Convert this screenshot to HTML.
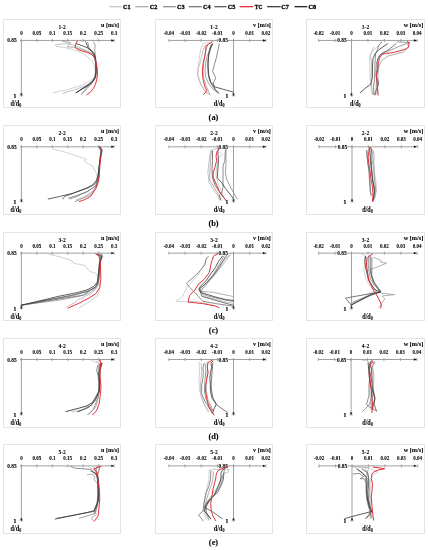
<!DOCTYPE html><html><head><meta charset="utf-8"><style>html,body{margin:0;padding:0;background:#fff;}svg{display:block;will-change:transform}</style></head><body>
<svg width="428" height="550" viewBox="0 0 428 550" font-family='"Liberation Serif", serif' fill="#000">
<rect width="428" height="550" fill="#fff"/>
<line x1="109.5" y1="6.7" x2="121.60000000000001" y2="6.7" stroke="#c4c4c4" stroke-width="1.25"/>
<text x="122.90" y="9.10" font-size="7.0" text-anchor="start" font-weight="bold" stroke="#000" stroke-width="0.32" textLength="7.6" lengthAdjust="spacingAndGlyphs">C1</text>
<line x1="135.3" y1="6.7" x2="148.20000000000002" y2="6.7" stroke="#a8a8a8" stroke-width="1.25"/>
<text x="149.70" y="9.10" font-size="7.0" text-anchor="start" font-weight="bold" stroke="#000" stroke-width="0.32" textLength="7.6" lengthAdjust="spacingAndGlyphs">C2</text>
<line x1="163.0" y1="6.7" x2="175.8" y2="6.7" stroke="#8c8c8c" stroke-width="1.25"/>
<text x="177.10" y="9.10" font-size="7.0" text-anchor="start" font-weight="bold" stroke="#000" stroke-width="0.32" textLength="7.6" lengthAdjust="spacingAndGlyphs">C3</text>
<line x1="188.7" y1="6.7" x2="201.8" y2="6.7" stroke="#707070" stroke-width="1.25"/>
<text x="203.10" y="9.10" font-size="7.0" text-anchor="start" font-weight="bold" stroke="#000" stroke-width="0.32" textLength="7.6" lengthAdjust="spacingAndGlyphs">C4</text>
<line x1="214.4" y1="6.7" x2="226.5" y2="6.7" stroke="#555555" stroke-width="1.25"/>
<text x="227.80" y="9.10" font-size="7.0" text-anchor="start" font-weight="bold" stroke="#000" stroke-width="0.32" textLength="7.6" lengthAdjust="spacingAndGlyphs">C5</text>
<line x1="239.6" y1="6.7" x2="253.20000000000002" y2="6.7" stroke="#e3262b" stroke-width="1.25"/>
<text x="254.80" y="9.10" font-size="7.0" text-anchor="start" font-weight="bold" stroke="#000" stroke-width="0.32" textLength="7.6" lengthAdjust="spacingAndGlyphs">TC</text>
<line x1="267.1" y1="6.7" x2="280.59999999999997" y2="6.7" stroke="#333333" stroke-width="1.25"/>
<text x="281.20" y="9.10" font-size="7.0" text-anchor="start" font-weight="bold" stroke="#000" stroke-width="0.32" textLength="7.6" lengthAdjust="spacingAndGlyphs">C7</text>
<line x1="294.5" y1="6.7" x2="307.29999999999995" y2="6.7" stroke="#1a1a1a" stroke-width="1.25"/>
<text x="308.60" y="9.10" font-size="7.0" text-anchor="start" font-weight="bold" stroke="#000" stroke-width="0.32" textLength="7.6" lengthAdjust="spacingAndGlyphs">C8</text>
<rect x="3.5" y="19.5" width="117" height="88" fill="none" stroke="#e4e4e4" stroke-width="1"/>
<text x="62.10" y="29.00" font-size="6.6" text-anchor="middle" font-weight="bold" stroke="#000" stroke-width="0.2" textLength="7.4" lengthAdjust="spacingAndGlyphs" stroke-opacity="0.3">1-2</text>
<text x="119.00" y="27.00" font-size="6.7" text-anchor="end" font-weight="bold" stroke="#000" stroke-width="0.2" textLength="17.9" lengthAdjust="spacingAndGlyphs" stroke-opacity="0.5">u [m/s]</text>
<line x1="20.0" y1="40.45" x2="112.2" y2="40.45" stroke="#959595" stroke-width="0.9"/>
<path d="M114.7,40.45 L111.3,39.25 L111.3,41.650000000000006 Z" fill="#111"/>
<line x1="21.40" y1="38.85" x2="21.40" y2="42.050000000000004" stroke="#959595" stroke-width="0.8"/>
<text x="21.40" y="34.60" font-size="5.6" text-anchor="middle" font-weight="bold" stroke="#000" stroke-width="0.2" fill="#000" textLength="2.52" lengthAdjust="spacingAndGlyphs" stroke-opacity="0.35">0</text>
<line x1="36.85" y1="38.85" x2="36.85" y2="42.050000000000004" stroke="#959595" stroke-width="0.8"/>
<text x="36.85" y="34.60" font-size="5.6" text-anchor="middle" font-weight="bold" stroke="#000" stroke-width="0.2" fill="#000" textLength="8.82" lengthAdjust="spacingAndGlyphs" stroke-opacity="0.35">0.05</text>
<line x1="52.30" y1="38.85" x2="52.30" y2="42.050000000000004" stroke="#959595" stroke-width="0.8"/>
<text x="52.30" y="34.60" font-size="5.6" text-anchor="middle" font-weight="bold" stroke="#000" stroke-width="0.2" fill="#000" textLength="6.30" lengthAdjust="spacingAndGlyphs" stroke-opacity="0.35">0.1</text>
<line x1="67.75" y1="38.85" x2="67.75" y2="42.050000000000004" stroke="#959595" stroke-width="0.8"/>
<text x="67.75" y="34.60" font-size="5.6" text-anchor="middle" font-weight="bold" stroke="#000" stroke-width="0.2" fill="#000" textLength="8.82" lengthAdjust="spacingAndGlyphs" stroke-opacity="0.35">0.15</text>
<line x1="83.20" y1="38.85" x2="83.20" y2="42.050000000000004" stroke="#959595" stroke-width="0.8"/>
<text x="83.20" y="34.60" font-size="5.6" text-anchor="middle" font-weight="bold" stroke="#000" stroke-width="0.2" fill="#000" textLength="6.30" lengthAdjust="spacingAndGlyphs" stroke-opacity="0.35">0.2</text>
<line x1="98.65" y1="38.85" x2="98.65" y2="42.050000000000004" stroke="#959595" stroke-width="0.8"/>
<text x="98.65" y="34.60" font-size="5.6" text-anchor="middle" font-weight="bold" stroke="#000" stroke-width="0.2" fill="#000" textLength="8.82" lengthAdjust="spacingAndGlyphs" stroke-opacity="0.35">0.25</text>
<line x1="114.10" y1="38.85" x2="114.10" y2="42.050000000000004" stroke="#959595" stroke-width="0.8"/>
<text x="114.10" y="34.60" font-size="5.6" text-anchor="middle" font-weight="bold" stroke="#000" stroke-width="0.2" fill="#000" textLength="6.30" lengthAdjust="spacingAndGlyphs" stroke-opacity="0.35">0.3</text>
<line x1="21.4" y1="39.45" x2="21.4" y2="94.2" stroke="#959595" stroke-width="0.9"/>
<path d="M21.4,96.7 L20.25,93.4 L22.549999999999997,93.4 Z" fill="#111"/>
<line x1="19.599999999999998" y1="95.7" x2="23.2" y2="95.7" stroke="#959595" stroke-width="0.8"/>
<text x="16.60" y="42.45" font-size="5.6" text-anchor="end" font-weight="bold" stroke="#000" stroke-width="0.2" fill="#000" textLength="9.41" lengthAdjust="spacingAndGlyphs" stroke-opacity="0.35">0.85</text>
<text x="14.80" y="98.00" font-size="5.6" text-anchor="middle" font-weight="bold" stroke="#000" stroke-width="0.2" fill="#000">1</text>
<text transform="translate(10.6,106.3) scale(1,1.28)" font-size="6.2" font-weight="bold" stroke="#000" stroke-width="0.05">d/d<tspan font-size="4.2" dy="0.9">0</tspan></text>
<path d="M56.5,46.4 L65.0,47.6 L73.0,49.5 L80.0,52.0 L85.0,55.0 L90.0,59.0 L93.5,63.0 L95.0,68.0 L95.2,73.0 L94.5,77.0 L91.0,80.5 L82.0,85.0 L68.0,89.5 L53.2,92.6" fill="none" stroke="#c6c6c6" stroke-width="0.8" stroke-linejoin="round" stroke-linecap="round"/>
<path d="M55.0,45.0 L62.0,44.0 L67.0,43.6 L72.0,44.5 L79.0,47.5 L86.0,50.5 L91.5,53.0 L94.5,57.0 L95.5,63.0 L96.0,70.0 L95.5,76.0 L93.0,81.0 L86.0,85.5 L74.0,90.0 L62.9,93.2" fill="none" stroke="#b2b2b2" stroke-width="0.8" stroke-linejoin="round" stroke-linecap="round"/>
<path d="M62.4,41.3 L70.8,42.7 L67.1,46.9 L74.6,47.3 L82.0,49.6 L88.0,51.5 L92.5,53.5 L95.0,58.0 L96.0,65.0 L96.2,72.0 L95.5,77.5 L92.0,83.0 L86.5,87.5 L81.5,94.5" fill="none" stroke="#9c9c9c" stroke-width="0.8" stroke-linejoin="round" stroke-linecap="round"/>
<path d="M93.5,42.0 L95.2,45.0 L94.7,49.5 L95.2,54.0 L95.8,60.0 L96.1,68.0 L95.8,75.0 L94.5,79.5 L91.5,84.0 L87.0,88.5 L81.5,94.5" fill="none" stroke="#868686" stroke-width="0.8" stroke-linejoin="round" stroke-linecap="round"/>
<path d="M87.7,42.3 L88.5,46.0 L89.5,49.5 L92.5,52.5 L94.8,57.0 L95.8,64.0 L96.0,71.0 L95.3,77.0 L92.5,81.5 L86.0,86.0 L76.2,92.6" fill="none" stroke="#707070" stroke-width="0.8" stroke-linejoin="round" stroke-linecap="round"/>
<path d="M85.5,41.5 L87.0,45.0 L88.0,48.5 L91.0,50.5 L94.0,53.5 L95.5,58.0 L96.2,65.0 L96.2,72.0 L95.5,77.5 L93.0,81.5 L88.5,85.5 L82.0,89.0 L76.2,92.6" fill="none" stroke="#555555" stroke-width="0.8" stroke-linejoin="round" stroke-linecap="round"/>
<path d="M76.0,43.6 L81.9,45.6 L87.7,47.9 L91.2,49.9 L93.6,53.2 L95.3,57.9 L96.0,64.0 L96.0,71.0 L95.0,77.0 L92.5,81.0 L88.5,85.0 L82.0,89.0 L76.2,92.6" fill="none" stroke="#363636" stroke-width="0.8" stroke-linejoin="round" stroke-linecap="round"/>
<path d="M77.3,41.1 L75.6,44.5 L75.1,47.3 L77.4,49.3 L82.0,51.0 L87.7,52.6 L90.8,54.0 L93.3,56.0 L95.0,59.0 L96.2,63.0 L97.2,68.0 L97.4,74.0 L96.9,79.0 L95.5,84.0 L93.5,88.3 L90.4,92.2 L86.8,94.8" fill="none" stroke="#e3262b" stroke-width="0.95" stroke-linejoin="round" stroke-linecap="round"/>
<rect x="155.5" y="19.5" width="117" height="88" fill="none" stroke="#e4e4e4" stroke-width="1"/>
<text x="214.00" y="29.00" font-size="6.6" text-anchor="middle" font-weight="bold" stroke="#000" stroke-width="0.2" textLength="7.4" lengthAdjust="spacingAndGlyphs" stroke-opacity="0.3">1-2</text>
<text x="270.80" y="27.00" font-size="6.7" text-anchor="end" font-weight="bold" stroke="#000" stroke-width="0.2" textLength="17.7" lengthAdjust="spacingAndGlyphs" stroke-opacity="0.5">v [m/s]</text>
<line x1="168.9" y1="40.45" x2="263.8" y2="40.45" stroke="#959595" stroke-width="0.9"/>
<path d="M266.3,40.45 L262.90000000000003,39.25 L262.90000000000003,41.650000000000006 Z" fill="#111"/>
<line x1="168.90" y1="38.85" x2="168.90" y2="42.050000000000004" stroke="#959595" stroke-width="0.8"/>
<text x="168.90" y="34.60" font-size="5.6" text-anchor="middle" font-weight="bold" stroke="#000" stroke-width="0.2" fill="#000" textLength="10.50" lengthAdjust="spacingAndGlyphs" stroke-opacity="0.35">-0.04</text>
<line x1="185.05" y1="38.85" x2="185.05" y2="42.050000000000004" stroke="#959595" stroke-width="0.8"/>
<text x="185.05" y="34.60" font-size="5.6" text-anchor="middle" font-weight="bold" stroke="#000" stroke-width="0.2" fill="#000" textLength="10.50" lengthAdjust="spacingAndGlyphs" stroke-opacity="0.35">-0.03</text>
<line x1="201.20" y1="38.85" x2="201.20" y2="42.050000000000004" stroke="#959595" stroke-width="0.8"/>
<text x="201.20" y="34.60" font-size="5.6" text-anchor="middle" font-weight="bold" stroke="#000" stroke-width="0.2" fill="#000" textLength="10.50" lengthAdjust="spacingAndGlyphs" stroke-opacity="0.35">-0.02</text>
<line x1="217.35" y1="38.85" x2="217.35" y2="42.050000000000004" stroke="#959595" stroke-width="0.8"/>
<text x="217.35" y="34.60" font-size="5.6" text-anchor="middle" font-weight="bold" stroke="#000" stroke-width="0.2" fill="#000" textLength="10.50" lengthAdjust="spacingAndGlyphs" stroke-opacity="0.35">-0.01</text>
<line x1="233.50" y1="38.85" x2="233.50" y2="42.050000000000004" stroke="#959595" stroke-width="0.8"/>
<text x="233.50" y="34.60" font-size="5.6" text-anchor="middle" font-weight="bold" stroke="#000" stroke-width="0.2" fill="#000" textLength="2.52" lengthAdjust="spacingAndGlyphs" stroke-opacity="0.35">0</text>
<line x1="249.65" y1="38.85" x2="249.65" y2="42.050000000000004" stroke="#959595" stroke-width="0.8"/>
<text x="249.65" y="34.60" font-size="5.6" text-anchor="middle" font-weight="bold" stroke="#000" stroke-width="0.2" fill="#000" textLength="8.82" lengthAdjust="spacingAndGlyphs" stroke-opacity="0.35">0.01</text>
<line x1="265.80" y1="38.85" x2="265.80" y2="42.050000000000004" stroke="#959595" stroke-width="0.8"/>
<text x="265.80" y="34.60" font-size="5.6" text-anchor="middle" font-weight="bold" stroke="#000" stroke-width="0.2" fill="#000" textLength="8.82" lengthAdjust="spacingAndGlyphs" stroke-opacity="0.35">0.02</text>
<line x1="233.5" y1="39.45" x2="233.5" y2="94.2" stroke="#959595" stroke-width="0.9"/>
<path d="M233.5,96.7 L232.35,93.4 L234.65,93.4 Z" fill="#111"/>
<line x1="231.7" y1="95.7" x2="235.3" y2="95.7" stroke="#959595" stroke-width="0.8"/>
<rect x="218.29999999999998" y="38.25" width="9.6" height="4.4" fill="#fff"/>
<text x="218.60" y="42.45" font-size="5.6" text-anchor="start" font-weight="bold" stroke="#000" stroke-width="0.2" fill="#000" textLength="9.41" lengthAdjust="spacingAndGlyphs" stroke-opacity="0.35">0.85</text>
<text x="227.00" y="98.00" font-size="5.6" text-anchor="middle" font-weight="bold" stroke="#000" stroke-width="0.2" fill="#000">1</text>
<text transform="translate(213.8,106.3) scale(1,1.28)" font-size="6.2" font-weight="bold" stroke="#000" stroke-width="0.05">d/d<tspan font-size="4.2" dy="0.9">0</tspan></text>
<path d="M213.0,41.6 L203.0,43.3 L200.5,50.0 L199.0,60.0 L198.0,70.0 L198.5,78.0 L201.0,85.0 L205.0,91.0 L208.0,94.5" fill="none" stroke="#c6c6c6" stroke-width="0.8" stroke-linejoin="round" stroke-linecap="round"/>
<path d="M205.2,45.0 L202.9,50.9 L200.5,61.4 L198.2,68.0 L197.4,74.3 L200.4,83.3 L204.3,89.7 L209.4,94.8" fill="none" stroke="#b2b2b2" stroke-width="0.8" stroke-linejoin="round" stroke-linecap="round"/>
<path d="M208.0,44.0 L206.0,50.0 L204.5,57.0 L203.5,64.0 L203.0,71.0 L203.5,78.1 L206.2,85.8 L210.0,94.8" fill="none" stroke="#9c9c9c" stroke-width="0.8" stroke-linejoin="round" stroke-linecap="round"/>
<path d="M211.3,44.4 L209.4,50.9 L206.9,57.3 L205.5,64.0 L205.0,71.0 L206.0,78.0 L209.0,84.0 L213.0,89.0 L218.0,93.0" fill="none" stroke="#868686" stroke-width="0.8" stroke-linejoin="round" stroke-linecap="round"/>
<path d="M219.2,44.0 L217.8,50.9 L216.5,57.3 L214.5,64.0 L212.6,71.4 L215.8,77.8 L213.3,83.0 L214.5,88.0 L217.1,92.0" fill="none" stroke="#707070" stroke-width="0.8" stroke-linejoin="round" stroke-linecap="round"/>
<path d="M212.0,44.0 L210.0,48.0 L208.8,53.0 L208.0,60.0 L207.8,67.0 L208.2,74.0 L209.5,80.0 L212.0,85.0 L215.5,90.0 L219.0,93.0" fill="none" stroke="#555555" stroke-width="0.8" stroke-linejoin="round" stroke-linecap="round"/>
<path d="M212.6,43.8 L210.7,48.3 L208.8,54.7 L208.1,63.7 L208.3,70.0 L208.8,75.3 L210.7,81.7 L214.6,86.8 L223.6,89.4 L233.2,92.0" fill="none" stroke="#363636" stroke-width="0.8" stroke-linejoin="round" stroke-linecap="round"/>
<path d="M212.0,41.9 L206.2,45.7 L205.6,50.9 L204.9,56.0 L203.6,61.0 L203.0,63.7 L202.4,71.4 L203.0,79.1 L204.9,86.8 L206.9,90.7 L203.6,94.6" fill="none" stroke="#e3262b" stroke-width="0.95" stroke-linejoin="round" stroke-linecap="round"/>
<rect x="306.5" y="19.5" width="118" height="88" fill="none" stroke="#e4e4e4" stroke-width="1"/>
<text x="365.50" y="29.00" font-size="6.6" text-anchor="middle" font-weight="bold" stroke="#000" stroke-width="0.2" textLength="7.4" lengthAdjust="spacingAndGlyphs" stroke-opacity="0.3">1-2</text>
<text x="423.30" y="27.00" font-size="6.7" text-anchor="end" font-weight="bold" stroke="#000" stroke-width="0.2" textLength="19.6" lengthAdjust="spacingAndGlyphs" stroke-opacity="0.5">w [m/s]</text>
<line x1="318.3" y1="40.45" x2="414.8" y2="40.45" stroke="#959595" stroke-width="0.9"/>
<path d="M417.3,40.45 L413.90000000000003,39.25 L413.90000000000003,41.650000000000006 Z" fill="#111"/>
<line x1="318.64" y1="38.85" x2="318.64" y2="42.050000000000004" stroke="#959595" stroke-width="0.8"/>
<text x="318.64" y="34.60" font-size="5.6" text-anchor="middle" font-weight="bold" stroke="#000" stroke-width="0.2" fill="#000" textLength="10.50" lengthAdjust="spacingAndGlyphs" stroke-opacity="0.35">-0.02</text>
<line x1="335.07" y1="38.85" x2="335.07" y2="42.050000000000004" stroke="#959595" stroke-width="0.8"/>
<text x="335.07" y="34.60" font-size="5.6" text-anchor="middle" font-weight="bold" stroke="#000" stroke-width="0.2" fill="#000" textLength="10.50" lengthAdjust="spacingAndGlyphs" stroke-opacity="0.35">-0.01</text>
<line x1="351.50" y1="38.85" x2="351.50" y2="42.050000000000004" stroke="#959595" stroke-width="0.8"/>
<text x="351.50" y="34.60" font-size="5.6" text-anchor="middle" font-weight="bold" stroke="#000" stroke-width="0.2" fill="#000" textLength="2.52" lengthAdjust="spacingAndGlyphs" stroke-opacity="0.35">0</text>
<line x1="367.93" y1="38.85" x2="367.93" y2="42.050000000000004" stroke="#959595" stroke-width="0.8"/>
<text x="367.93" y="34.60" font-size="5.6" text-anchor="middle" font-weight="bold" stroke="#000" stroke-width="0.2" fill="#000" textLength="8.82" lengthAdjust="spacingAndGlyphs" stroke-opacity="0.35">0.01</text>
<line x1="384.36" y1="38.85" x2="384.36" y2="42.050000000000004" stroke="#959595" stroke-width="0.8"/>
<text x="384.36" y="34.60" font-size="5.6" text-anchor="middle" font-weight="bold" stroke="#000" stroke-width="0.2" fill="#000" textLength="8.82" lengthAdjust="spacingAndGlyphs" stroke-opacity="0.35">0.02</text>
<line x1="400.79" y1="38.85" x2="400.79" y2="42.050000000000004" stroke="#959595" stroke-width="0.8"/>
<text x="400.79" y="34.60" font-size="5.6" text-anchor="middle" font-weight="bold" stroke="#000" stroke-width="0.2" fill="#000" textLength="8.82" lengthAdjust="spacingAndGlyphs" stroke-opacity="0.35">0.03</text>
<line x1="417.22" y1="38.85" x2="417.22" y2="42.050000000000004" stroke="#959595" stroke-width="0.8"/>
<text x="417.22" y="34.60" font-size="5.6" text-anchor="middle" font-weight="bold" stroke="#000" stroke-width="0.2" fill="#000" textLength="8.82" lengthAdjust="spacingAndGlyphs" stroke-opacity="0.35">0.04</text>
<line x1="351.5" y1="39.45" x2="351.5" y2="94.2" stroke="#959595" stroke-width="0.9"/>
<path d="M351.5,96.7 L350.35,93.4 L352.65,93.4 Z" fill="#111"/>
<line x1="349.7" y1="95.7" x2="353.3" y2="95.7" stroke="#959595" stroke-width="0.8"/>
<rect x="337.0" y="38.25" width="9.6" height="4.4" fill="#fff"/>
<text x="337.30" y="42.45" font-size="5.6" text-anchor="start" font-weight="bold" stroke="#000" stroke-width="0.2" fill="#000" textLength="9.41" lengthAdjust="spacingAndGlyphs" stroke-opacity="0.35">0.85</text>
<text x="344.80" y="98.00" font-size="5.6" text-anchor="middle" font-weight="bold" stroke="#000" stroke-width="0.2" fill="#000">1</text>
<text transform="translate(350.0,106.3) scale(1,1.28)" font-size="6.2" font-weight="bold" stroke="#000" stroke-width="0.05">d/d<tspan font-size="4.2" dy="0.9">0</tspan></text>
<path d="M380.0,44.0 L372.0,52.0 L369.5,58.0 L370.0,70.0 L370.5,85.0 L372.0,94.0" fill="none" stroke="#c6c6c6" stroke-width="0.8" stroke-linejoin="round" stroke-linecap="round"/>
<path d="M374.0,47.0 L370.1,54.7 L371.5,62.0 L371.3,72.0 L371.3,83.0 L372.0,90.0 L373.0,95.0" fill="none" stroke="#b2b2b2" stroke-width="0.8" stroke-linejoin="round" stroke-linecap="round"/>
<path d="M410.0,45.0 L403.6,52.1 L388.1,56.0 L381.7,60.5 L379.0,66.0 L378.0,75.0 L378.0,85.0 L377.0,94.0" fill="none" stroke="#9c9c9c" stroke-width="0.8" stroke-linejoin="round" stroke-linecap="round"/>
<path d="M397.1,41.9 L410.0,42.5 L400.0,46.0 L392.0,49.5 L384.0,52.5 L379.0,56.0 L377.0,62.0 L376.0,70.0 L376.5,80.0 L376.0,90.0 L375.5,95.0" fill="none" stroke="#868686" stroke-width="0.8" stroke-linejoin="round" stroke-linecap="round"/>
<path d="M381.7,41.9 L378.5,45.7 L377.9,48.9 L375.5,54.0 L375.0,62.0 L374.8,72.0 L374.5,79.9 L373.4,86.2 L373.9,94.6" fill="none" stroke="#707070" stroke-width="0.8" stroke-linejoin="round" stroke-linecap="round"/>
<path d="M395.8,43.8 L392.0,47.0 L386.9,50.9 L381.7,53.4 L377.9,58.6 L376.9,64.0 L378.1,65.2 L376.0,75.7 L378.7,83.0 L376.6,89.3 L374.5,94.6" fill="none" stroke="#555555" stroke-width="0.8" stroke-linejoin="round" stroke-linecap="round"/>
<path d="M387.5,43.8 L379.1,49.6 L375.3,53.4 L372.9,58.6 L372.5,66.0 L372.4,77.8 L370.8,84.1 L365.0,88.5 L360.3,92.5" fill="none" stroke="#363636" stroke-width="0.8" stroke-linejoin="round" stroke-linecap="round"/>
<path d="M407.4,41.2 L409.3,43.1 L408.0,45.1 L408.7,47.0 L406.1,48.9 L399.7,50.9 L392.0,52.8 L385.6,53.4 L381.7,54.7 L379.8,57.3 L378.5,62.4 L377.6,69.4 L376.6,75.7 L377.1,83.0 L377.6,88.3 L378.1,95.1" fill="none" stroke="#e3262b" stroke-width="0.95" stroke-linejoin="round" stroke-linecap="round"/>
<text x="213.5" y="120.30" font-size="8.4" text-anchor="middle" font-weight="bold" stroke="#000" stroke-width="0.08">(a)</text>
<rect x="3.5" y="125.5" width="117" height="89" fill="none" stroke="#e4e4e4" stroke-width="1"/>
<text x="62.10" y="135.00" font-size="6.6" text-anchor="middle" font-weight="bold" stroke="#000" stroke-width="0.2" textLength="7.4" lengthAdjust="spacingAndGlyphs" stroke-opacity="0.3">2-2</text>
<text x="119.00" y="133.00" font-size="6.7" text-anchor="end" font-weight="bold" stroke="#000" stroke-width="0.2" textLength="17.9" lengthAdjust="spacingAndGlyphs" stroke-opacity="0.5">u [m/s]</text>
<line x1="20.0" y1="146.8" x2="112.2" y2="146.8" stroke="#959595" stroke-width="0.9"/>
<path d="M114.7,146.8 L111.3,145.60000000000002 L111.3,148.0 Z" fill="#111"/>
<line x1="21.40" y1="145.20000000000002" x2="21.40" y2="148.4" stroke="#959595" stroke-width="0.8"/>
<text x="21.40" y="140.60" font-size="5.6" text-anchor="middle" font-weight="bold" stroke="#000" stroke-width="0.2" fill="#000" textLength="2.52" lengthAdjust="spacingAndGlyphs" stroke-opacity="0.35">0</text>
<line x1="36.85" y1="145.20000000000002" x2="36.85" y2="148.4" stroke="#959595" stroke-width="0.8"/>
<text x="36.85" y="140.60" font-size="5.6" text-anchor="middle" font-weight="bold" stroke="#000" stroke-width="0.2" fill="#000" textLength="8.82" lengthAdjust="spacingAndGlyphs" stroke-opacity="0.35">0.05</text>
<line x1="52.30" y1="145.20000000000002" x2="52.30" y2="148.4" stroke="#959595" stroke-width="0.8"/>
<text x="52.30" y="140.60" font-size="5.6" text-anchor="middle" font-weight="bold" stroke="#000" stroke-width="0.2" fill="#000" textLength="6.30" lengthAdjust="spacingAndGlyphs" stroke-opacity="0.35">0.1</text>
<line x1="67.75" y1="145.20000000000002" x2="67.75" y2="148.4" stroke="#959595" stroke-width="0.8"/>
<text x="67.75" y="140.60" font-size="5.6" text-anchor="middle" font-weight="bold" stroke="#000" stroke-width="0.2" fill="#000" textLength="8.82" lengthAdjust="spacingAndGlyphs" stroke-opacity="0.35">0.15</text>
<line x1="83.20" y1="145.20000000000002" x2="83.20" y2="148.4" stroke="#959595" stroke-width="0.8"/>
<text x="83.20" y="140.60" font-size="5.6" text-anchor="middle" font-weight="bold" stroke="#000" stroke-width="0.2" fill="#000" textLength="6.30" lengthAdjust="spacingAndGlyphs" stroke-opacity="0.35">0.2</text>
<line x1="98.65" y1="145.20000000000002" x2="98.65" y2="148.4" stroke="#959595" stroke-width="0.8"/>
<text x="98.65" y="140.60" font-size="5.6" text-anchor="middle" font-weight="bold" stroke="#000" stroke-width="0.2" fill="#000" textLength="8.82" lengthAdjust="spacingAndGlyphs" stroke-opacity="0.35">0.25</text>
<line x1="114.10" y1="145.20000000000002" x2="114.10" y2="148.4" stroke="#959595" stroke-width="0.8"/>
<text x="114.10" y="140.60" font-size="5.6" text-anchor="middle" font-weight="bold" stroke="#000" stroke-width="0.2" fill="#000" textLength="6.30" lengthAdjust="spacingAndGlyphs" stroke-opacity="0.35">0.3</text>
<line x1="21.4" y1="145.8" x2="21.4" y2="200.2" stroke="#959595" stroke-width="0.9"/>
<path d="M21.4,202.7 L20.25,199.39999999999998 L22.549999999999997,199.39999999999998 Z" fill="#111"/>
<line x1="19.599999999999998" y1="201.7" x2="23.2" y2="201.7" stroke="#959595" stroke-width="0.8"/>
<text x="16.60" y="148.80" font-size="5.6" text-anchor="end" font-weight="bold" stroke="#000" stroke-width="0.2" fill="#000" textLength="9.41" lengthAdjust="spacingAndGlyphs" stroke-opacity="0.35">0.85</text>
<text x="14.80" y="204.00" font-size="5.6" text-anchor="middle" font-weight="bold" stroke="#000" stroke-width="0.2" fill="#000">1</text>
<text transform="translate(10.6,212.3) scale(1,1.28)" font-size="6.2" font-weight="bold" stroke="#000" stroke-width="0.05">d/d<tspan font-size="4.2" dy="0.9">0</tspan></text>
<path d="M52.3,148.7 L64.5,152.0 L77.6,156.1 L84.2,158.5 L86.6,159.4 L84.2,161.0 L87.5,163.5 L92.4,165.9 L94.0,169.2 L96.5,173.3 L97.5,178.0 L97.0,183.0 L95.0,188.0 L90.0,194.0 L82.0,198.5 L75.2,201.5" fill="none" stroke="#c6c6c6" stroke-width="0.8" stroke-linejoin="round" stroke-linecap="round"/>
<path d="M100.0,147.5 L101.3,151.0 L100.4,157.0 L99.5,165.0 L98.8,172.0 L98.2,179.0 L96.5,186.0 L92.0,192.0 L84.0,197.0 L76.0,200.0" fill="none" stroke="#b2b2b2" stroke-width="0.8" stroke-linejoin="round" stroke-linecap="round"/>
<path d="M100.0,148.0 L101.0,152.0 L100.0,160.0 L99.0,170.0 L98.5,178.0 L96.5,188.4 L90.7,194.9 L79.3,199.8 L75.2,201.5" fill="none" stroke="#9c9c9c" stroke-width="0.8" stroke-linejoin="round" stroke-linecap="round"/>
<path d="M99.2,147.0 L100.8,151.5 L100.0,158.0 L99.2,166.0 L98.5,173.0 L97.8,180.0 L95.5,186.0 L88.0,191.0 L78.0,196.0 L70.0,199.0" fill="none" stroke="#868686" stroke-width="0.8" stroke-linejoin="round" stroke-linecap="round"/>
<path d="M99.5,147.0 L101.0,151.0 L100.3,157.0 L99.3,165.0 L98.7,172.0 L98.0,179.0 L96.5,185.1 L87.5,191.6 L76.0,195.7 L68.6,198.2" fill="none" stroke="#707070" stroke-width="0.8" stroke-linejoin="round" stroke-linecap="round"/>
<path d="M100.0,147.0 L101.5,150.5 L100.8,155.0 L99.8,162.0 L99.0,170.0 L98.2,177.0 L95.6,183.5 L88.0,188.0 L80.9,190.5 L64.5,196.5 L62.9,199.0" fill="none" stroke="#555555" stroke-width="0.8" stroke-linejoin="round" stroke-linecap="round"/>
<path d="M99.0,146.5 L102.2,149.5 L101.4,152.8 L100.5,158.0 L99.7,163.0 L98.8,170.0 L98.1,175.0 L96.5,180.2 L92.4,185.1 L85.8,188.4 L72.7,193.3 L59.6,196.5 L48.2,199.0" fill="none" stroke="#363636" stroke-width="0.8" stroke-linejoin="round" stroke-linecap="round"/>
<path d="M100.6,148.2 L101.9,151.2 L101.0,156.0 L100.2,162.0 L99.7,168.0 L99.4,175.7 L98.4,181.8 L95.6,188.4 L90.7,196.5 L84.2,199.8 L79.3,201.5" fill="none" stroke="#e3262b" stroke-width="0.95" stroke-linejoin="round" stroke-linecap="round"/>
<rect x="155.5" y="125.5" width="117" height="89" fill="none" stroke="#e4e4e4" stroke-width="1"/>
<text x="214.00" y="135.00" font-size="6.6" text-anchor="middle" font-weight="bold" stroke="#000" stroke-width="0.2" textLength="7.4" lengthAdjust="spacingAndGlyphs" stroke-opacity="0.3">2-2</text>
<text x="270.80" y="133.00" font-size="6.7" text-anchor="end" font-weight="bold" stroke="#000" stroke-width="0.2" textLength="17.7" lengthAdjust="spacingAndGlyphs" stroke-opacity="0.5">v [m/s]</text>
<line x1="168.9" y1="146.8" x2="263.8" y2="146.8" stroke="#959595" stroke-width="0.9"/>
<path d="M266.3,146.8 L262.90000000000003,145.60000000000002 L262.90000000000003,148.0 Z" fill="#111"/>
<line x1="168.90" y1="145.20000000000002" x2="168.90" y2="148.4" stroke="#959595" stroke-width="0.8"/>
<text x="168.90" y="140.60" font-size="5.6" text-anchor="middle" font-weight="bold" stroke="#000" stroke-width="0.2" fill="#000" textLength="10.50" lengthAdjust="spacingAndGlyphs" stroke-opacity="0.35">-0.04</text>
<line x1="185.05" y1="145.20000000000002" x2="185.05" y2="148.4" stroke="#959595" stroke-width="0.8"/>
<text x="185.05" y="140.60" font-size="5.6" text-anchor="middle" font-weight="bold" stroke="#000" stroke-width="0.2" fill="#000" textLength="10.50" lengthAdjust="spacingAndGlyphs" stroke-opacity="0.35">-0.03</text>
<line x1="201.20" y1="145.20000000000002" x2="201.20" y2="148.4" stroke="#959595" stroke-width="0.8"/>
<text x="201.20" y="140.60" font-size="5.6" text-anchor="middle" font-weight="bold" stroke="#000" stroke-width="0.2" fill="#000" textLength="10.50" lengthAdjust="spacingAndGlyphs" stroke-opacity="0.35">-0.02</text>
<line x1="217.35" y1="145.20000000000002" x2="217.35" y2="148.4" stroke="#959595" stroke-width="0.8"/>
<text x="217.35" y="140.60" font-size="5.6" text-anchor="middle" font-weight="bold" stroke="#000" stroke-width="0.2" fill="#000" textLength="10.50" lengthAdjust="spacingAndGlyphs" stroke-opacity="0.35">-0.01</text>
<line x1="233.50" y1="145.20000000000002" x2="233.50" y2="148.4" stroke="#959595" stroke-width="0.8"/>
<text x="233.50" y="140.60" font-size="5.6" text-anchor="middle" font-weight="bold" stroke="#000" stroke-width="0.2" fill="#000" textLength="2.52" lengthAdjust="spacingAndGlyphs" stroke-opacity="0.35">0</text>
<line x1="249.65" y1="145.20000000000002" x2="249.65" y2="148.4" stroke="#959595" stroke-width="0.8"/>
<text x="249.65" y="140.60" font-size="5.6" text-anchor="middle" font-weight="bold" stroke="#000" stroke-width="0.2" fill="#000" textLength="8.82" lengthAdjust="spacingAndGlyphs" stroke-opacity="0.35">0.01</text>
<line x1="265.80" y1="145.20000000000002" x2="265.80" y2="148.4" stroke="#959595" stroke-width="0.8"/>
<text x="265.80" y="140.60" font-size="5.6" text-anchor="middle" font-weight="bold" stroke="#000" stroke-width="0.2" fill="#000" textLength="8.82" lengthAdjust="spacingAndGlyphs" stroke-opacity="0.35">0.02</text>
<line x1="233.5" y1="145.8" x2="233.5" y2="200.2" stroke="#959595" stroke-width="0.9"/>
<path d="M233.5,202.7 L232.35,199.39999999999998 L234.65,199.39999999999998 Z" fill="#111"/>
<line x1="231.7" y1="201.7" x2="235.3" y2="201.7" stroke="#959595" stroke-width="0.8"/>
<rect x="218.29999999999998" y="144.60000000000002" width="9.6" height="4.4" fill="#fff"/>
<text x="218.60" y="148.80" font-size="5.6" text-anchor="start" font-weight="bold" stroke="#000" stroke-width="0.2" fill="#000" textLength="9.41" lengthAdjust="spacingAndGlyphs" stroke-opacity="0.35">0.85</text>
<text x="227.00" y="204.00" font-size="5.6" text-anchor="middle" font-weight="bold" stroke="#000" stroke-width="0.2" fill="#000">1</text>
<text transform="translate(213.8,212.3) scale(1,1.28)" font-size="6.2" font-weight="bold" stroke="#000" stroke-width="0.05">d/d<tspan font-size="4.2" dy="0.9">0</tspan></text>
<path d="M226.0,147.7 L226.0,165.0 L225.4,172.0 L226.5,179.0 L231.2,188.4 L237.0,198.9" fill="none" stroke="#868686" stroke-width="0.8" stroke-linejoin="round" stroke-linecap="round"/>
<path d="M217.2,148.3 L210.8,150.6 L209.5,158.0 L208.5,166.0 L207.9,172.0 L209.0,182.5 L213.7,189.5 L218.4,196.5 L219.5,200.0" fill="none" stroke="#b2b2b2" stroke-width="0.8" stroke-linejoin="round" stroke-linecap="round"/>
<path d="M211.4,150.6 L210.8,155.9 L210.2,166.4 L209.6,178.0 L210.2,181.3 L214.9,188.4 L218.4,194.2 L220.7,200.0" fill="none" stroke="#9c9c9c" stroke-width="0.8" stroke-linejoin="round" stroke-linecap="round"/>
<path d="M219.5,152.3 L222.5,154.7 L219.5,157.0 L218.0,160.0 L216.5,168.0 L216.0,176.0 L218.0,184.0 L221.0,190.0 L224.0,196.0" fill="none" stroke="#c6c6c6" stroke-width="0.8" stroke-linejoin="round" stroke-linecap="round"/>
<path d="M225.4,150.0 L224.8,160.5 L223.0,166.4 L223.0,175.0 L223.0,187.2 L221.9,191.9 L219.5,195.4 L220.7,200.0" fill="none" stroke="#707070" stroke-width="0.8" stroke-linejoin="round" stroke-linecap="round"/>
<path d="M212.5,151.2 L212.5,160.5 L212.0,170.0 L212.5,178.0 L215.0,185.0 L219.0,191.0 L223.5,197.0" fill="none" stroke="#555555" stroke-width="0.8" stroke-linejoin="round" stroke-linecap="round"/>
<path d="M218.5,148.5 L217.8,151.2 L218.4,160.5 L217.8,170.0 L217.2,177.8 L222.5,183.7 L225.4,188.4 L230.0,194.2 L233.6,198.9" fill="none" stroke="#363636" stroke-width="0.8" stroke-linejoin="round" stroke-linecap="round"/>
<path d="M219.5,148.3 L217.2,151.2 L216.0,155.9 L216.6,160.5 L214.9,167.5 L213.1,173.4 L213.3,177.8 L216.6,184.9 L219.5,191.9 L223.0,196.5 L226.0,200.6" fill="none" stroke="#e3262b" stroke-width="0.95" stroke-linejoin="round" stroke-linecap="round"/>
<rect x="306.5" y="125.5" width="118" height="89" fill="none" stroke="#e4e4e4" stroke-width="1"/>
<text x="365.50" y="135.00" font-size="6.6" text-anchor="middle" font-weight="bold" stroke="#000" stroke-width="0.2" textLength="7.4" lengthAdjust="spacingAndGlyphs" stroke-opacity="0.3">2-2</text>
<text x="423.30" y="133.00" font-size="6.7" text-anchor="end" font-weight="bold" stroke="#000" stroke-width="0.2" textLength="19.6" lengthAdjust="spacingAndGlyphs" stroke-opacity="0.5">w [m/s]</text>
<line x1="318.3" y1="146.8" x2="414.8" y2="146.8" stroke="#959595" stroke-width="0.9"/>
<path d="M417.3,146.8 L413.90000000000003,145.60000000000002 L413.90000000000003,148.0 Z" fill="#111"/>
<line x1="319.14" y1="145.20000000000002" x2="319.14" y2="148.4" stroke="#959595" stroke-width="0.8"/>
<text x="319.14" y="140.60" font-size="5.6" text-anchor="middle" font-weight="bold" stroke="#000" stroke-width="0.2" fill="#000" textLength="10.50" lengthAdjust="spacingAndGlyphs" stroke-opacity="0.35">-0.02</text>
<line x1="335.57" y1="145.20000000000002" x2="335.57" y2="148.4" stroke="#959595" stroke-width="0.8"/>
<text x="335.57" y="140.60" font-size="5.6" text-anchor="middle" font-weight="bold" stroke="#000" stroke-width="0.2" fill="#000" textLength="10.50" lengthAdjust="spacingAndGlyphs" stroke-opacity="0.35">-0.01</text>
<line x1="352.00" y1="145.20000000000002" x2="352.00" y2="148.4" stroke="#959595" stroke-width="0.8"/>
<text x="352.00" y="140.60" font-size="5.6" text-anchor="middle" font-weight="bold" stroke="#000" stroke-width="0.2" fill="#000" textLength="2.52" lengthAdjust="spacingAndGlyphs" stroke-opacity="0.35">0</text>
<line x1="368.43" y1="145.20000000000002" x2="368.43" y2="148.4" stroke="#959595" stroke-width="0.8"/>
<text x="368.43" y="140.60" font-size="5.6" text-anchor="middle" font-weight="bold" stroke="#000" stroke-width="0.2" fill="#000" textLength="8.82" lengthAdjust="spacingAndGlyphs" stroke-opacity="0.35">0.01</text>
<line x1="384.86" y1="145.20000000000002" x2="384.86" y2="148.4" stroke="#959595" stroke-width="0.8"/>
<text x="384.86" y="140.60" font-size="5.6" text-anchor="middle" font-weight="bold" stroke="#000" stroke-width="0.2" fill="#000" textLength="8.82" lengthAdjust="spacingAndGlyphs" stroke-opacity="0.35">0.02</text>
<line x1="401.29" y1="145.20000000000002" x2="401.29" y2="148.4" stroke="#959595" stroke-width="0.8"/>
<text x="401.29" y="140.60" font-size="5.6" text-anchor="middle" font-weight="bold" stroke="#000" stroke-width="0.2" fill="#000" textLength="8.82" lengthAdjust="spacingAndGlyphs" stroke-opacity="0.35">0.03</text>
<line x1="417.72" y1="145.20000000000002" x2="417.72" y2="148.4" stroke="#959595" stroke-width="0.8"/>
<text x="417.72" y="140.60" font-size="5.6" text-anchor="middle" font-weight="bold" stroke="#000" stroke-width="0.2" fill="#000" textLength="8.82" lengthAdjust="spacingAndGlyphs" stroke-opacity="0.35">0.04</text>
<line x1="352.0" y1="145.8" x2="352.0" y2="200.2" stroke="#959595" stroke-width="0.9"/>
<path d="M352.0,202.7 L350.85,199.39999999999998 L353.15,199.39999999999998 Z" fill="#111"/>
<line x1="350.2" y1="201.7" x2="353.8" y2="201.7" stroke="#959595" stroke-width="0.8"/>
<rect x="337.5" y="144.60000000000002" width="9.6" height="4.4" fill="#fff"/>
<text x="337.80" y="148.80" font-size="5.6" text-anchor="start" font-weight="bold" stroke="#000" stroke-width="0.2" fill="#000" textLength="9.41" lengthAdjust="spacingAndGlyphs" stroke-opacity="0.35">0.85</text>
<text x="344.80" y="204.00" font-size="5.6" text-anchor="middle" font-weight="bold" stroke="#000" stroke-width="0.2" fill="#000">1</text>
<text transform="translate(362.2,212.3) scale(1,1.28)" font-size="6.2" font-weight="bold" stroke="#000" stroke-width="0.05">d/d<tspan font-size="4.2" dy="0.9">0</tspan></text>
<path d="M372.5,149.0 L374.5,156.0 L373.5,163.0 L374.5,172.0 L376.0,182.0 L376.5,190.0 L375.0,198.0" fill="none" stroke="#c6c6c6" stroke-width="0.8" stroke-linejoin="round" stroke-linecap="round"/>
<path d="M371.6,150.0 L373.0,153.0 L372.0,160.0 L373.5,168.0 L374.0,176.0 L375.0,185.0 L375.2,192.0" fill="none" stroke="#b2b2b2" stroke-width="0.8" stroke-linejoin="round" stroke-linecap="round"/>
<path d="M373.4,151.2 L372.8,154.7 L374.0,165.2 L374.0,171.0 L374.8,181.3 L376.0,190.7 L374.2,198.9" fill="none" stroke="#9c9c9c" stroke-width="0.8" stroke-linejoin="round" stroke-linecap="round"/>
<path d="M368.5,149.0 L367.0,155.0 L367.8,163.0 L369.0,172.0 L369.5,182.0 L370.0,190.0 L371.0,196.0" fill="none" stroke="#868686" stroke-width="0.8" stroke-linejoin="round" stroke-linecap="round"/>
<path d="M366.4,150.6 L367.5,160.5 L369.3,172.2 L370.1,183.7 L370.7,193.0 L372.5,195.4" fill="none" stroke="#707070" stroke-width="0.8" stroke-linejoin="round" stroke-linecap="round"/>
<path d="M371.0,148.0 L371.6,150.0 L371.0,156.0 L371.5,165.0 L372.3,175.0 L373.5,185.0 L374.3,193.0 L373.5,200.0" fill="none" stroke="#555555" stroke-width="0.8" stroke-linejoin="round" stroke-linecap="round"/>
<path d="M369.5,147.5 L369.9,151.2 L370.4,160.5 L371.6,172.2 L372.5,180.2 L374.8,189.5 L373.6,197.7 L373.0,201.2" fill="none" stroke="#363636" stroke-width="0.8" stroke-linejoin="round" stroke-linecap="round"/>
<path d="M370.4,147.5 L368.7,152.3 L368.1,157.0 L368.7,162.0 L369.3,166.4 L370.4,173.4 L370.9,179.0 L372.5,187.2 L373.0,195.4 L372.5,201.2" fill="none" stroke="#e3262b" stroke-width="0.95" stroke-linejoin="round" stroke-linecap="round"/>
<text x="213.5" y="226.30" font-size="8.4" text-anchor="middle" font-weight="bold" stroke="#000" stroke-width="0.08">(b)</text>
<rect x="3.5" y="232.5" width="117" height="88" fill="none" stroke="#e4e4e4" stroke-width="1"/>
<text x="62.10" y="242.00" font-size="6.6" text-anchor="middle" font-weight="bold" stroke="#000" stroke-width="0.2" textLength="7.4" lengthAdjust="spacingAndGlyphs" stroke-opacity="0.3">3-2</text>
<text x="119.00" y="240.00" font-size="6.7" text-anchor="end" font-weight="bold" stroke="#000" stroke-width="0.2" textLength="17.9" lengthAdjust="spacingAndGlyphs" stroke-opacity="0.5">u [m/s]</text>
<line x1="20.0" y1="253.15" x2="112.2" y2="253.15" stroke="#959595" stroke-width="0.9"/>
<path d="M114.7,253.15 L111.3,251.95000000000002 L111.3,254.35 Z" fill="#111"/>
<line x1="21.40" y1="251.55" x2="21.40" y2="254.75" stroke="#959595" stroke-width="0.8"/>
<text x="21.40" y="247.60" font-size="5.6" text-anchor="middle" font-weight="bold" stroke="#000" stroke-width="0.2" fill="#000" textLength="2.52" lengthAdjust="spacingAndGlyphs" stroke-opacity="0.35">0</text>
<line x1="36.85" y1="251.55" x2="36.85" y2="254.75" stroke="#959595" stroke-width="0.8"/>
<text x="36.85" y="247.60" font-size="5.6" text-anchor="middle" font-weight="bold" stroke="#000" stroke-width="0.2" fill="#000" textLength="8.82" lengthAdjust="spacingAndGlyphs" stroke-opacity="0.35">0.05</text>
<line x1="52.30" y1="251.55" x2="52.30" y2="254.75" stroke="#959595" stroke-width="0.8"/>
<text x="52.30" y="247.60" font-size="5.6" text-anchor="middle" font-weight="bold" stroke="#000" stroke-width="0.2" fill="#000" textLength="6.30" lengthAdjust="spacingAndGlyphs" stroke-opacity="0.35">0.1</text>
<line x1="67.75" y1="251.55" x2="67.75" y2="254.75" stroke="#959595" stroke-width="0.8"/>
<text x="67.75" y="247.60" font-size="5.6" text-anchor="middle" font-weight="bold" stroke="#000" stroke-width="0.2" fill="#000" textLength="8.82" lengthAdjust="spacingAndGlyphs" stroke-opacity="0.35">0.15</text>
<line x1="83.20" y1="251.55" x2="83.20" y2="254.75" stroke="#959595" stroke-width="0.8"/>
<text x="83.20" y="247.60" font-size="5.6" text-anchor="middle" font-weight="bold" stroke="#000" stroke-width="0.2" fill="#000" textLength="6.30" lengthAdjust="spacingAndGlyphs" stroke-opacity="0.35">0.2</text>
<line x1="98.65" y1="251.55" x2="98.65" y2="254.75" stroke="#959595" stroke-width="0.8"/>
<text x="98.65" y="247.60" font-size="5.6" text-anchor="middle" font-weight="bold" stroke="#000" stroke-width="0.2" fill="#000" textLength="8.82" lengthAdjust="spacingAndGlyphs" stroke-opacity="0.35">0.25</text>
<line x1="114.10" y1="251.55" x2="114.10" y2="254.75" stroke="#959595" stroke-width="0.8"/>
<text x="114.10" y="247.60" font-size="5.6" text-anchor="middle" font-weight="bold" stroke="#000" stroke-width="0.2" fill="#000" textLength="6.30" lengthAdjust="spacingAndGlyphs" stroke-opacity="0.35">0.3</text>
<line x1="21.4" y1="252.15" x2="21.4" y2="307.2" stroke="#959595" stroke-width="0.9"/>
<path d="M21.4,309.7 L20.25,306.4 L22.549999999999997,306.4 Z" fill="#111"/>
<line x1="19.599999999999998" y1="308.7" x2="23.2" y2="308.7" stroke="#959595" stroke-width="0.8"/>
<text x="16.60" y="255.15" font-size="5.6" text-anchor="end" font-weight="bold" stroke="#000" stroke-width="0.2" fill="#000" textLength="9.41" lengthAdjust="spacingAndGlyphs" stroke-opacity="0.35">0.85</text>
<text x="14.80" y="311.00" font-size="5.6" text-anchor="middle" font-weight="bold" stroke="#000" stroke-width="0.2" fill="#000">1</text>
<text transform="translate(10.6,319.3) scale(1,1.28)" font-size="6.2" font-weight="bold" stroke="#000" stroke-width="0.05">d/d<tspan font-size="4.2" dy="0.9">0</tspan></text>
<path d="M47.7,253.8 L61.7,257.3 L72.2,260.9 L73.4,263.2 L85.1,265.5 L87.4,269.0 L89.8,271.4 L96.2,273.5 L98.3,277.0 L99.0,283.0 L99.7,289.9 L97.4,295.7 L89.2,302.1 L78.7,308.0" fill="none" stroke="#c6c6c6" stroke-width="0.8" stroke-linejoin="round" stroke-linecap="round"/>
<path d="M98.0,255.0 L100.5,259.0 L99.0,266.0 L98.5,275.0 L98.0,285.2 L95.0,289.9 L90.4,294.0 L84.5,296.3 L83.4,298.0 L77.5,299.8 L76.4,301.5 L65.8,307.4" fill="none" stroke="#b2b2b2" stroke-width="0.8" stroke-linejoin="round" stroke-linecap="round"/>
<path d="M100.0,254.0 L101.8,257.0 L100.2,264.0 L99.5,274.0 L98.5,283.0 L96.0,288.0 L90.0,292.6 L80.0,296.2 L60.0,300.0 L21.3,305.2" fill="none" stroke="#9c9c9c" stroke-width="0.8" stroke-linejoin="round" stroke-linecap="round"/>
<path d="M99.0,254.0 L101.0,258.0 L99.8,266.0 L99.2,276.0 L98.0,284.0 L94.0,288.5 L86.0,292.0 L70.0,296.3 L45.0,300.5 L21.3,305.2" fill="none" stroke="#868686" stroke-width="0.8" stroke-linejoin="round" stroke-linecap="round"/>
<path d="M102.0,255.0 L100.5,260.0 L99.5,270.0 L98.6,280.0 L96.5,286.0 L90.0,290.6 L83.4,295.1 L60.0,298.9 L21.3,305.2" fill="none" stroke="#707070" stroke-width="0.8" stroke-linejoin="round" stroke-linecap="round"/>
<path d="M101.0,254.0 L102.6,256.2 L100.0,262.0 L99.0,272.0 L98.0,282.0 L95.0,287.5 L88.0,291.0 L75.0,294.5 L60.0,297.5 L21.3,305.2" fill="none" stroke="#555555" stroke-width="0.8" stroke-linejoin="round" stroke-linecap="round"/>
<path d="M97.0,254.0 L101.5,256.5 L99.5,262.0 L98.8,270.0 L97.4,281.7 L93.9,286.4 L86.9,289.9 L77.5,292.5 L60.0,296.0 L21.3,305.2" fill="none" stroke="#363636" stroke-width="0.8" stroke-linejoin="round" stroke-linecap="round"/>
<path d="M95.6,253.8 L99.1,256.2 L100.3,262.0 L100.6,270.0 L100.9,279.3 L99.7,287.5 L96.2,293.4 L89.2,298.0 L77.5,303.9 L68.2,308.0" fill="none" stroke="#e3262b" stroke-width="0.95" stroke-linejoin="round" stroke-linecap="round"/>
<rect x="155.5" y="232.5" width="117" height="88" fill="none" stroke="#e4e4e4" stroke-width="1"/>
<text x="214.00" y="242.00" font-size="6.6" text-anchor="middle" font-weight="bold" stroke="#000" stroke-width="0.2" textLength="7.4" lengthAdjust="spacingAndGlyphs" stroke-opacity="0.3">3-2</text>
<text x="270.80" y="240.00" font-size="6.7" text-anchor="end" font-weight="bold" stroke="#000" stroke-width="0.2" textLength="17.7" lengthAdjust="spacingAndGlyphs" stroke-opacity="0.5">v [m/s]</text>
<line x1="168.9" y1="253.15" x2="263.8" y2="253.15" stroke="#959595" stroke-width="0.9"/>
<path d="M266.3,253.15 L262.90000000000003,251.95000000000002 L262.90000000000003,254.35 Z" fill="#111"/>
<line x1="168.90" y1="251.55" x2="168.90" y2="254.75" stroke="#959595" stroke-width="0.8"/>
<text x="168.90" y="247.60" font-size="5.6" text-anchor="middle" font-weight="bold" stroke="#000" stroke-width="0.2" fill="#000" textLength="10.50" lengthAdjust="spacingAndGlyphs" stroke-opacity="0.35">-0.04</text>
<line x1="185.05" y1="251.55" x2="185.05" y2="254.75" stroke="#959595" stroke-width="0.8"/>
<text x="185.05" y="247.60" font-size="5.6" text-anchor="middle" font-weight="bold" stroke="#000" stroke-width="0.2" fill="#000" textLength="10.50" lengthAdjust="spacingAndGlyphs" stroke-opacity="0.35">-0.03</text>
<line x1="201.20" y1="251.55" x2="201.20" y2="254.75" stroke="#959595" stroke-width="0.8"/>
<text x="201.20" y="247.60" font-size="5.6" text-anchor="middle" font-weight="bold" stroke="#000" stroke-width="0.2" fill="#000" textLength="10.50" lengthAdjust="spacingAndGlyphs" stroke-opacity="0.35">-0.02</text>
<line x1="217.35" y1="251.55" x2="217.35" y2="254.75" stroke="#959595" stroke-width="0.8"/>
<text x="217.35" y="247.60" font-size="5.6" text-anchor="middle" font-weight="bold" stroke="#000" stroke-width="0.2" fill="#000" textLength="10.50" lengthAdjust="spacingAndGlyphs" stroke-opacity="0.35">-0.01</text>
<line x1="233.50" y1="251.55" x2="233.50" y2="254.75" stroke="#959595" stroke-width="0.8"/>
<text x="233.50" y="247.60" font-size="5.6" text-anchor="middle" font-weight="bold" stroke="#000" stroke-width="0.2" fill="#000" textLength="2.52" lengthAdjust="spacingAndGlyphs" stroke-opacity="0.35">0</text>
<line x1="249.65" y1="251.55" x2="249.65" y2="254.75" stroke="#959595" stroke-width="0.8"/>
<text x="249.65" y="247.60" font-size="5.6" text-anchor="middle" font-weight="bold" stroke="#000" stroke-width="0.2" fill="#000" textLength="8.82" lengthAdjust="spacingAndGlyphs" stroke-opacity="0.35">0.01</text>
<line x1="265.80" y1="251.55" x2="265.80" y2="254.75" stroke="#959595" stroke-width="0.8"/>
<text x="265.80" y="247.60" font-size="5.6" text-anchor="middle" font-weight="bold" stroke="#000" stroke-width="0.2" fill="#000" textLength="8.82" lengthAdjust="spacingAndGlyphs" stroke-opacity="0.35">0.02</text>
<line x1="233.5" y1="252.15" x2="233.5" y2="307.2" stroke="#959595" stroke-width="0.9"/>
<path d="M233.5,309.7 L232.35,306.4 L234.65,306.4 Z" fill="#111"/>
<line x1="231.7" y1="308.7" x2="235.3" y2="308.7" stroke="#959595" stroke-width="0.8"/>
<rect x="218.29999999999998" y="250.95000000000002" width="9.6" height="4.4" fill="#fff"/>
<text x="218.60" y="255.15" font-size="5.6" text-anchor="start" font-weight="bold" stroke="#000" stroke-width="0.2" fill="#000" textLength="9.41" lengthAdjust="spacingAndGlyphs" stroke-opacity="0.35">0.85</text>
<text x="227.00" y="311.00" font-size="5.6" text-anchor="middle" font-weight="bold" stroke="#000" stroke-width="0.2" fill="#000">1</text>
<text transform="translate(213.8,319.3) scale(1,1.28)" font-size="6.2" font-weight="bold" stroke="#000" stroke-width="0.05">d/d<tspan font-size="4.2" dy="0.9">0</tspan></text>
<path d="M207.0,258.0 L203.0,266.0 L198.0,275.0 L192.0,282.0 L187.2,286.5 L182.3,297.1 L175.7,301.2 L186.4,302.0 L194.5,301.2 L205.0,303.0 L215.0,306.0" fill="none" stroke="#c6c6c6" stroke-width="0.8" stroke-linejoin="round" stroke-linecap="round"/>
<path d="M231.0,254.0 L226.5,260.0 L221.0,267.0 L215.5,274.0 L209.5,281.0 L203.5,287.5 L200.0,293.0 L206.0,297.0 L220.0,300.5 L233.5,303.5" fill="none" stroke="#b2b2b2" stroke-width="0.8" stroke-linejoin="round" stroke-linecap="round"/>
<path d="M208.5,256.2 L206.0,259.0 L205.2,264.4 L201.0,269.5 L198.6,272.5 L191.3,279.1 L186.4,283.2 L189.6,287.3 L194.5,292.2 L202.7,301.2 L215.8,303.6 L227.3,305.3 L233.5,306.1" fill="none" stroke="#707070" stroke-width="0.8" stroke-linejoin="round" stroke-linecap="round"/>
<path d="M224.0,256.0 L220.5,262.0 L217.0,268.5 L212.5,275.5 L206.5,282.5 L200.5,288.5 L199.5,291.5 L206.0,295.5 L218.0,298.5 L233.5,301.5" fill="none" stroke="#868686" stroke-width="0.8" stroke-linejoin="round" stroke-linecap="round"/>
<path d="M228.9,255.2 L223.5,261.2 L219.3,268.2 L214.0,275.0 L208.0,282.0 L203.0,288.0 L201.1,291.4 L212.6,292.2 L232.2,296.3 L233.5,296.5" fill="none" stroke="#9c9c9c" stroke-width="0.8" stroke-linejoin="round" stroke-linecap="round"/>
<path d="M226.5,255.4 L221.5,263.0 L217.0,270.0 L212.5,276.5 L209.4,280.0 L203.0,286.0 L199.5,288.5 L201.9,296.3 L212.6,299.5 L224.0,302.8 L233.5,305.3" fill="none" stroke="#555555" stroke-width="0.8" stroke-linejoin="round" stroke-linecap="round"/>
<path d="M222.4,256.2 L218.6,261.2 L215.0,268.2 L210.8,273.8 L206.6,280.0 L200.3,286.5 L198.6,289.7 L202.7,293.0 L215.8,297.1 L225.6,299.5 L233.5,300.5" fill="none" stroke="#363636" stroke-width="0.8" stroke-linejoin="round" stroke-linecap="round"/>
<path d="M217.5,253.7 L213.4,256.2 L212.6,259.5 L211.5,262.0 L210.9,264.4 L209.3,272.5 L204.4,279.1 L198.6,284.0 L194.5,290.6 L189.6,295.5 L188.0,302.0 L202.7,303.6 L215.8,306.1 L219.1,307.7" fill="none" stroke="#e3262b" stroke-width="0.95" stroke-linejoin="round" stroke-linecap="round"/>
<rect x="306.5" y="232.5" width="118" height="88" fill="none" stroke="#e4e4e4" stroke-width="1"/>
<text x="365.50" y="242.00" font-size="6.6" text-anchor="middle" font-weight="bold" stroke="#000" stroke-width="0.2" textLength="7.4" lengthAdjust="spacingAndGlyphs" stroke-opacity="0.3">3-2</text>
<text x="423.30" y="240.00" font-size="6.7" text-anchor="end" font-weight="bold" stroke="#000" stroke-width="0.2" textLength="19.6" lengthAdjust="spacingAndGlyphs" stroke-opacity="0.5">w [m/s]</text>
<line x1="318.3" y1="253.15" x2="414.8" y2="253.15" stroke="#959595" stroke-width="0.9"/>
<path d="M417.3,253.15 L413.90000000000003,251.95000000000002 L413.90000000000003,254.35 Z" fill="#111"/>
<line x1="318.64" y1="251.55" x2="318.64" y2="254.75" stroke="#959595" stroke-width="0.8"/>
<text x="318.64" y="247.60" font-size="5.6" text-anchor="middle" font-weight="bold" stroke="#000" stroke-width="0.2" fill="#000" textLength="10.50" lengthAdjust="spacingAndGlyphs" stroke-opacity="0.35">-0.02</text>
<line x1="335.07" y1="251.55" x2="335.07" y2="254.75" stroke="#959595" stroke-width="0.8"/>
<text x="335.07" y="247.60" font-size="5.6" text-anchor="middle" font-weight="bold" stroke="#000" stroke-width="0.2" fill="#000" textLength="10.50" lengthAdjust="spacingAndGlyphs" stroke-opacity="0.35">-0.01</text>
<line x1="351.50" y1="251.55" x2="351.50" y2="254.75" stroke="#959595" stroke-width="0.8"/>
<text x="351.50" y="247.60" font-size="5.6" text-anchor="middle" font-weight="bold" stroke="#000" stroke-width="0.2" fill="#000" textLength="2.52" lengthAdjust="spacingAndGlyphs" stroke-opacity="0.35">0</text>
<line x1="367.93" y1="251.55" x2="367.93" y2="254.75" stroke="#959595" stroke-width="0.8"/>
<text x="367.93" y="247.60" font-size="5.6" text-anchor="middle" font-weight="bold" stroke="#000" stroke-width="0.2" fill="#000" textLength="8.82" lengthAdjust="spacingAndGlyphs" stroke-opacity="0.35">0.01</text>
<line x1="384.36" y1="251.55" x2="384.36" y2="254.75" stroke="#959595" stroke-width="0.8"/>
<text x="384.36" y="247.60" font-size="5.6" text-anchor="middle" font-weight="bold" stroke="#000" stroke-width="0.2" fill="#000" textLength="8.82" lengthAdjust="spacingAndGlyphs" stroke-opacity="0.35">0.02</text>
<line x1="400.79" y1="251.55" x2="400.79" y2="254.75" stroke="#959595" stroke-width="0.8"/>
<text x="400.79" y="247.60" font-size="5.6" text-anchor="middle" font-weight="bold" stroke="#000" stroke-width="0.2" fill="#000" textLength="8.82" lengthAdjust="spacingAndGlyphs" stroke-opacity="0.35">0.03</text>
<line x1="417.22" y1="251.55" x2="417.22" y2="254.75" stroke="#959595" stroke-width="0.8"/>
<text x="417.22" y="247.60" font-size="5.6" text-anchor="middle" font-weight="bold" stroke="#000" stroke-width="0.2" fill="#000" textLength="8.82" lengthAdjust="spacingAndGlyphs" stroke-opacity="0.35">0.04</text>
<line x1="351.5" y1="252.15" x2="351.5" y2="307.2" stroke="#959595" stroke-width="0.9"/>
<path d="M351.5,309.7 L350.35,306.4 L352.65,306.4 Z" fill="#111"/>
<line x1="349.7" y1="308.7" x2="353.3" y2="308.7" stroke="#959595" stroke-width="0.8"/>
<rect x="337.0" y="250.95000000000002" width="9.6" height="4.4" fill="#fff"/>
<text x="337.30" y="255.15" font-size="5.6" text-anchor="start" font-weight="bold" stroke="#000" stroke-width="0.2" fill="#000" textLength="9.41" lengthAdjust="spacingAndGlyphs" stroke-opacity="0.35">0.85</text>
<text x="344.80" y="311.00" font-size="5.6" text-anchor="middle" font-weight="bold" stroke="#000" stroke-width="0.2" fill="#000">1</text>
<text transform="translate(362.2,319.3) scale(1,1.28)" font-size="6.2" font-weight="bold" stroke="#000" stroke-width="0.05">d/d<tspan font-size="4.2" dy="0.9">0</tspan></text>
<path d="M361.3,254.2 L364.5,255.3 L364.5,262.0 L364.0,271.0 L365.5,278.0 L369.0,285.0 L374.0,291.0 L362.0,299.0 L354.0,302.3 L351.2,305.0" fill="none" stroke="#c6c6c6" stroke-width="0.8" stroke-linejoin="round" stroke-linecap="round"/>
<path d="M366.0,256.0 L366.5,263.0 L367.0,270.0 L368.5,278.0 L372.0,286.0 L377.0,291.0 L368.0,296.0 L351.2,304.0" fill="none" stroke="#b2b2b2" stroke-width="0.8" stroke-linejoin="round" stroke-linecap="round"/>
<path d="M373.9,257.4 L381.3,260.5 L380.8,262.1 L386.5,263.1 L380.2,265.8 L373.4,268.4 L370.8,268.9 L371.5,275.0 L373.0,282.0 L377.0,288.0 L380.7,293.2 L394.7,294.6 L382.0,296.0 L384.9,298.8 L382.0,303.0 L379.3,307.2" fill="none" stroke="#9c9c9c" stroke-width="0.8" stroke-linejoin="round" stroke-linecap="round"/>
<path d="M368.5,256.0 L368.3,264.0 L369.0,272.0 L370.5,279.0 L374.0,285.0 L379.0,290.0 L379.5,292.5 L365.0,297.0 L351.2,303.0" fill="none" stroke="#868686" stroke-width="0.8" stroke-linejoin="round" stroke-linecap="round"/>
<path d="M371.8,257.4 L371.8,265.8 L371.8,275.2 L373.5,281.0 L377.0,286.5 L380.7,291.5 L375.0,293.2 L351.2,305.1" fill="none" stroke="#707070" stroke-width="0.8" stroke-linejoin="round" stroke-linecap="round"/>
<path d="M370.2,256.3 L370.2,262.6 L370.2,271.0 L371.8,277.3 L374.5,283.4 L378.5,288.5 L380.7,291.8 L345.6,298.1 L351.2,305.1" fill="none" stroke="#555555" stroke-width="0.8" stroke-linejoin="round" stroke-linecap="round"/>
<path d="M365.5,256.3 L365.0,261.6 L365.5,266.8 L367.1,274.2 L368.5,280.0 L371.0,284.0 L375.0,290.0 L380.7,291.8 L370.0,295.0 L351.2,305.1" fill="none" stroke="#363636" stroke-width="0.8" stroke-linejoin="round" stroke-linecap="round"/>
<path d="M372.4,254.2 L368.7,256.3 L367.1,258.4 L366.6,262.6 L366.6,266.8 L367.6,273.1 L368.7,280.0 L370.1,283.4 L373.6,290.4 L377.2,296.0 L380.0,301.6 L381.4,305.1 L380.7,308.0" fill="none" stroke="#e3262b" stroke-width="0.95" stroke-linejoin="round" stroke-linecap="round"/>
<text x="213.5" y="333.30" font-size="8.4" text-anchor="middle" font-weight="bold" stroke="#000" stroke-width="0.08">(c)</text>
<rect x="3.5" y="338.5" width="117" height="89" fill="none" stroke="#e4e4e4" stroke-width="1"/>
<text x="62.10" y="348.00" font-size="6.6" text-anchor="middle" font-weight="bold" stroke="#000" stroke-width="0.2" textLength="7.4" lengthAdjust="spacingAndGlyphs" stroke-opacity="0.3">4-2</text>
<text x="119.00" y="346.00" font-size="6.7" text-anchor="end" font-weight="bold" stroke="#000" stroke-width="0.2" textLength="17.9" lengthAdjust="spacingAndGlyphs" stroke-opacity="0.5">u [m/s]</text>
<line x1="20.0" y1="359.5" x2="112.2" y2="359.5" stroke="#959595" stroke-width="0.9"/>
<path d="M114.7,359.5 L111.3,358.3 L111.3,360.7 Z" fill="#111"/>
<line x1="21.40" y1="357.9" x2="21.40" y2="361.1" stroke="#959595" stroke-width="0.8"/>
<text x="21.40" y="353.60" font-size="5.6" text-anchor="middle" font-weight="bold" stroke="#000" stroke-width="0.2" fill="#000" textLength="2.52" lengthAdjust="spacingAndGlyphs" stroke-opacity="0.35">0</text>
<line x1="36.85" y1="357.9" x2="36.85" y2="361.1" stroke="#959595" stroke-width="0.8"/>
<text x="36.85" y="353.60" font-size="5.6" text-anchor="middle" font-weight="bold" stroke="#000" stroke-width="0.2" fill="#000" textLength="8.82" lengthAdjust="spacingAndGlyphs" stroke-opacity="0.35">0.05</text>
<line x1="52.30" y1="357.9" x2="52.30" y2="361.1" stroke="#959595" stroke-width="0.8"/>
<text x="52.30" y="353.60" font-size="5.6" text-anchor="middle" font-weight="bold" stroke="#000" stroke-width="0.2" fill="#000" textLength="6.30" lengthAdjust="spacingAndGlyphs" stroke-opacity="0.35">0.1</text>
<line x1="67.75" y1="357.9" x2="67.75" y2="361.1" stroke="#959595" stroke-width="0.8"/>
<text x="67.75" y="353.60" font-size="5.6" text-anchor="middle" font-weight="bold" stroke="#000" stroke-width="0.2" fill="#000" textLength="8.82" lengthAdjust="spacingAndGlyphs" stroke-opacity="0.35">0.15</text>
<line x1="83.20" y1="357.9" x2="83.20" y2="361.1" stroke="#959595" stroke-width="0.8"/>
<text x="83.20" y="353.60" font-size="5.6" text-anchor="middle" font-weight="bold" stroke="#000" stroke-width="0.2" fill="#000" textLength="6.30" lengthAdjust="spacingAndGlyphs" stroke-opacity="0.35">0.2</text>
<line x1="98.65" y1="357.9" x2="98.65" y2="361.1" stroke="#959595" stroke-width="0.8"/>
<text x="98.65" y="353.60" font-size="5.6" text-anchor="middle" font-weight="bold" stroke="#000" stroke-width="0.2" fill="#000" textLength="8.82" lengthAdjust="spacingAndGlyphs" stroke-opacity="0.35">0.25</text>
<line x1="114.10" y1="357.9" x2="114.10" y2="361.1" stroke="#959595" stroke-width="0.8"/>
<text x="114.10" y="353.60" font-size="5.6" text-anchor="middle" font-weight="bold" stroke="#000" stroke-width="0.2" fill="#000" textLength="6.30" lengthAdjust="spacingAndGlyphs" stroke-opacity="0.35">0.3</text>
<line x1="21.4" y1="358.5" x2="21.4" y2="413.2" stroke="#959595" stroke-width="0.9"/>
<path d="M21.4,415.7 L20.25,412.4 L22.549999999999997,412.4 Z" fill="#111"/>
<line x1="19.599999999999998" y1="414.7" x2="23.2" y2="414.7" stroke="#959595" stroke-width="0.8"/>
<text x="16.60" y="361.50" font-size="5.6" text-anchor="end" font-weight="bold" stroke="#000" stroke-width="0.2" fill="#000" textLength="9.41" lengthAdjust="spacingAndGlyphs" stroke-opacity="0.35">0.85</text>
<text x="14.80" y="417.00" font-size="5.6" text-anchor="middle" font-weight="bold" stroke="#000" stroke-width="0.2" fill="#000">1</text>
<text transform="translate(10.6,425.3) scale(1,1.28)" font-size="6.2" font-weight="bold" stroke="#000" stroke-width="0.05">d/d<tspan font-size="4.2" dy="0.9">0</tspan></text>
<path d="M91.0,360.1 L96.2,362.5 L100.8,363.4 L100.3,370.0 L100.0,380.0 L99.5,390.0 L97.5,396.2 L94.7,400.4 L89.1,404.6 L79.3,408.1 L65.9,411.6" fill="none" stroke="#c6c6c6" stroke-width="0.8" stroke-linejoin="round" stroke-linecap="round"/>
<path d="M96.0,361.0 L99.0,363.5 L99.5,368.0 L99.8,376.0 L99.5,386.0 L98.0,395.0 L95.0,401.0 L90.0,406.0 L82.0,410.0 L72.0,412.0" fill="none" stroke="#b2b2b2" stroke-width="0.8" stroke-linejoin="round" stroke-linecap="round"/>
<path d="M100.0,361.0 L101.5,364.0 L100.5,370.0 L100.0,380.0 L99.5,390.0 L97.5,400.0 L96.1,406.0 L93.3,410.2 L87.7,414.4" fill="none" stroke="#9c9c9c" stroke-width="0.8" stroke-linejoin="round" stroke-linecap="round"/>
<path d="M99.4,360.0 L101.0,363.0 L100.0,368.0 L99.5,375.0 L99.5,385.0 L98.2,397.5 L95.8,403.1 L93.3,409.4 L89.1,414.3" fill="none" stroke="#868686" stroke-width="0.8" stroke-linejoin="round" stroke-linecap="round"/>
<path d="M98.0,365.3 L96.6,370.0 L98.0,375.6 L99.0,385.0 L98.5,393.0 L96.0,399.0 L92.0,404.6 L87.7,408.1 L77.9,411.6" fill="none" stroke="#707070" stroke-width="0.8" stroke-linejoin="round" stroke-linecap="round"/>
<path d="M101.8,363.4 L99.4,364.3 L98.8,370.0 L99.0,376.0 L99.2,382.0 L98.9,391.9 L95.4,399.6 L91.2,405.2 L83.5,409.4 L77.9,411.6" fill="none" stroke="#555555" stroke-width="0.8" stroke-linejoin="round" stroke-linecap="round"/>
<path d="M102.2,363.4 L100.8,367.1 L98.5,373.7 L99.4,379.3 L99.4,386.0 L99.3,390.5 L96.1,396.1 L92.6,402.4 L87.0,405.9 L79.3,408.1 L65.9,411.6" fill="none" stroke="#363636" stroke-width="0.8" stroke-linejoin="round" stroke-linecap="round"/>
<path d="M99.9,360.1 L100.8,362.5 L100.4,367.1 L99.9,373.7 L100.3,380.0 L101.0,387.0 L100.0,397.5 L98.9,404.5 L96.8,410.1 L94.0,413.6 L92.6,414.4" fill="none" stroke="#e3262b" stroke-width="0.95" stroke-linejoin="round" stroke-linecap="round"/>
<rect x="155.5" y="338.5" width="117" height="89" fill="none" stroke="#e4e4e4" stroke-width="1"/>
<text x="214.00" y="348.00" font-size="6.6" text-anchor="middle" font-weight="bold" stroke="#000" stroke-width="0.2" textLength="7.4" lengthAdjust="spacingAndGlyphs" stroke-opacity="0.3">4-2</text>
<text x="270.80" y="346.00" font-size="6.7" text-anchor="end" font-weight="bold" stroke="#000" stroke-width="0.2" textLength="17.7" lengthAdjust="spacingAndGlyphs" stroke-opacity="0.5">v [m/s]</text>
<line x1="168.9" y1="359.5" x2="263.8" y2="359.5" stroke="#959595" stroke-width="0.9"/>
<path d="M266.3,359.5 L262.90000000000003,358.3 L262.90000000000003,360.7 Z" fill="#111"/>
<line x1="168.90" y1="357.9" x2="168.90" y2="361.1" stroke="#959595" stroke-width="0.8"/>
<text x="168.90" y="353.60" font-size="5.6" text-anchor="middle" font-weight="bold" stroke="#000" stroke-width="0.2" fill="#000" textLength="10.50" lengthAdjust="spacingAndGlyphs" stroke-opacity="0.35">-0.04</text>
<line x1="185.05" y1="357.9" x2="185.05" y2="361.1" stroke="#959595" stroke-width="0.8"/>
<text x="185.05" y="353.60" font-size="5.6" text-anchor="middle" font-weight="bold" stroke="#000" stroke-width="0.2" fill="#000" textLength="10.50" lengthAdjust="spacingAndGlyphs" stroke-opacity="0.35">-0.03</text>
<line x1="201.20" y1="357.9" x2="201.20" y2="361.1" stroke="#959595" stroke-width="0.8"/>
<text x="201.20" y="353.60" font-size="5.6" text-anchor="middle" font-weight="bold" stroke="#000" stroke-width="0.2" fill="#000" textLength="10.50" lengthAdjust="spacingAndGlyphs" stroke-opacity="0.35">-0.02</text>
<line x1="217.35" y1="357.9" x2="217.35" y2="361.1" stroke="#959595" stroke-width="0.8"/>
<text x="217.35" y="353.60" font-size="5.6" text-anchor="middle" font-weight="bold" stroke="#000" stroke-width="0.2" fill="#000" textLength="10.50" lengthAdjust="spacingAndGlyphs" stroke-opacity="0.35">-0.01</text>
<line x1="233.50" y1="357.9" x2="233.50" y2="361.1" stroke="#959595" stroke-width="0.8"/>
<text x="233.50" y="353.60" font-size="5.6" text-anchor="middle" font-weight="bold" stroke="#000" stroke-width="0.2" fill="#000" textLength="2.52" lengthAdjust="spacingAndGlyphs" stroke-opacity="0.35">0</text>
<line x1="249.65" y1="357.9" x2="249.65" y2="361.1" stroke="#959595" stroke-width="0.8"/>
<text x="249.65" y="353.60" font-size="5.6" text-anchor="middle" font-weight="bold" stroke="#000" stroke-width="0.2" fill="#000" textLength="8.82" lengthAdjust="spacingAndGlyphs" stroke-opacity="0.35">0.01</text>
<line x1="265.80" y1="357.9" x2="265.80" y2="361.1" stroke="#959595" stroke-width="0.8"/>
<text x="265.80" y="353.60" font-size="5.6" text-anchor="middle" font-weight="bold" stroke="#000" stroke-width="0.2" fill="#000" textLength="8.82" lengthAdjust="spacingAndGlyphs" stroke-opacity="0.35">0.02</text>
<line x1="233.5" y1="358.5" x2="233.5" y2="413.2" stroke="#959595" stroke-width="0.9"/>
<path d="M233.5,415.7 L232.35,412.4 L234.65,412.4 Z" fill="#111"/>
<line x1="231.7" y1="414.7" x2="235.3" y2="414.7" stroke="#959595" stroke-width="0.8"/>
<rect x="218.29999999999998" y="357.3" width="9.6" height="4.4" fill="#fff"/>
<text x="218.60" y="361.50" font-size="5.6" text-anchor="start" font-weight="bold" stroke="#000" stroke-width="0.2" fill="#000" textLength="9.41" lengthAdjust="spacingAndGlyphs" stroke-opacity="0.35">0.85</text>
<text x="227.00" y="417.00" font-size="5.6" text-anchor="middle" font-weight="bold" stroke="#000" stroke-width="0.2" fill="#000">1</text>
<text transform="translate(213.8,425.3) scale(1,1.28)" font-size="6.2" font-weight="bold" stroke="#000" stroke-width="0.05">d/d<tspan font-size="4.2" dy="0.9">0</tspan></text>
<path d="M199.0,362.0 L199.5,370.0 L199.0,380.0 L199.5,390.0 L201.5,398.0 L205.0,406.0 L208.0,412.0" fill="none" stroke="#c6c6c6" stroke-width="0.8" stroke-linejoin="round" stroke-linecap="round"/>
<path d="M201.1,363.2 L201.7,370.2 L201.1,378.4 L200.5,385.0 L200.5,390.0 L201.1,394.9 L204.0,404.2 L208.7,411.2" fill="none" stroke="#b2b2b2" stroke-width="0.8" stroke-linejoin="round" stroke-linecap="round"/>
<path d="M207.0,362.0 L207.5,368.0 L207.0,376.0 L206.0,384.0 L206.5,392.0 L208.0,400.0 L211.0,406.0 L213.0,411.0" fill="none" stroke="#9c9c9c" stroke-width="0.8" stroke-linejoin="round" stroke-linecap="round"/>
<path d="M205.2,364.3 L205.8,370.2 L205.2,378.4 L204.6,385.0 L204.5,392.0 L206.0,399.0 L209.0,405.0 L212.0,410.0" fill="none" stroke="#868686" stroke-width="0.8" stroke-linejoin="round" stroke-linecap="round"/>
<path d="M204.0,363.2 L202.9,367.9 L203.4,372.5 L202.9,378.4 L201.7,385.0 L201.7,393.7 L205.2,401.9 L209.9,408.9 L212.2,413.5" fill="none" stroke="#707070" stroke-width="0.8" stroke-linejoin="round" stroke-linecap="round"/>
<path d="M212.8,363.2 L212.2,370.2 L211.6,378.4 L211.0,385.0 L211.8,392.0 L213.0,398.0 L216.3,404.5 L221.0,408.0 L227.4,412.4" fill="none" stroke="#555555" stroke-width="0.8" stroke-linejoin="round" stroke-linecap="round"/>
<path d="M213.0,361.0 L211.0,363.2 L211.6,367.9 L210.4,372.5 L209.9,378.4 L210.4,385.0 L210.4,391.3 L212.2,398.4 L216.3,404.2 L214.0,408.9 L212.8,412.4" fill="none" stroke="#363636" stroke-width="0.8" stroke-linejoin="round" stroke-linecap="round"/>
<path d="M212.2,360.3 L208.1,362.6 L207.3,366.7 L208.1,372.5 L206.9,378.4 L205.8,385.0 L205.2,389.0 L206.9,399.5 L208.7,406.5 L211.6,411.2 L214.0,415.0" fill="none" stroke="#e3262b" stroke-width="0.95" stroke-linejoin="round" stroke-linecap="round"/>
<rect x="306.5" y="338.5" width="118" height="89" fill="none" stroke="#e4e4e4" stroke-width="1"/>
<text x="365.50" y="348.00" font-size="6.6" text-anchor="middle" font-weight="bold" stroke="#000" stroke-width="0.2" textLength="7.4" lengthAdjust="spacingAndGlyphs" stroke-opacity="0.3">4-2</text>
<text x="423.30" y="346.00" font-size="6.7" text-anchor="end" font-weight="bold" stroke="#000" stroke-width="0.2" textLength="19.6" lengthAdjust="spacingAndGlyphs" stroke-opacity="0.5">w [m/s]</text>
<line x1="318.3" y1="359.5" x2="414.8" y2="359.5" stroke="#959595" stroke-width="0.9"/>
<path d="M417.3,359.5 L413.90000000000003,358.3 L413.90000000000003,360.7 Z" fill="#111"/>
<line x1="318.24" y1="357.9" x2="318.24" y2="361.1" stroke="#959595" stroke-width="0.8"/>
<text x="318.24" y="353.60" font-size="5.6" text-anchor="middle" font-weight="bold" stroke="#000" stroke-width="0.2" fill="#000" textLength="10.50" lengthAdjust="spacingAndGlyphs" stroke-opacity="0.35">-0.02</text>
<line x1="334.67" y1="357.9" x2="334.67" y2="361.1" stroke="#959595" stroke-width="0.8"/>
<text x="334.67" y="353.60" font-size="5.6" text-anchor="middle" font-weight="bold" stroke="#000" stroke-width="0.2" fill="#000" textLength="10.50" lengthAdjust="spacingAndGlyphs" stroke-opacity="0.35">-0.01</text>
<line x1="351.10" y1="357.9" x2="351.10" y2="361.1" stroke="#959595" stroke-width="0.8"/>
<text x="351.10" y="353.60" font-size="5.6" text-anchor="middle" font-weight="bold" stroke="#000" stroke-width="0.2" fill="#000" textLength="2.52" lengthAdjust="spacingAndGlyphs" stroke-opacity="0.35">0</text>
<line x1="367.53" y1="357.9" x2="367.53" y2="361.1" stroke="#959595" stroke-width="0.8"/>
<text x="367.53" y="353.60" font-size="5.6" text-anchor="middle" font-weight="bold" stroke="#000" stroke-width="0.2" fill="#000" textLength="8.82" lengthAdjust="spacingAndGlyphs" stroke-opacity="0.35">0.01</text>
<line x1="383.96" y1="357.9" x2="383.96" y2="361.1" stroke="#959595" stroke-width="0.8"/>
<text x="383.96" y="353.60" font-size="5.6" text-anchor="middle" font-weight="bold" stroke="#000" stroke-width="0.2" fill="#000" textLength="8.82" lengthAdjust="spacingAndGlyphs" stroke-opacity="0.35">0.02</text>
<line x1="400.39" y1="357.9" x2="400.39" y2="361.1" stroke="#959595" stroke-width="0.8"/>
<text x="400.39" y="353.60" font-size="5.6" text-anchor="middle" font-weight="bold" stroke="#000" stroke-width="0.2" fill="#000" textLength="8.82" lengthAdjust="spacingAndGlyphs" stroke-opacity="0.35">0.03</text>
<line x1="416.82" y1="357.9" x2="416.82" y2="361.1" stroke="#959595" stroke-width="0.8"/>
<text x="416.82" y="353.60" font-size="5.6" text-anchor="middle" font-weight="bold" stroke="#000" stroke-width="0.2" fill="#000" textLength="8.82" lengthAdjust="spacingAndGlyphs" stroke-opacity="0.35">0.04</text>
<line x1="351.1" y1="358.5" x2="351.1" y2="413.2" stroke="#959595" stroke-width="0.9"/>
<path d="M351.1,415.7 L349.95000000000005,412.4 L352.25,412.4 Z" fill="#111"/>
<line x1="349.3" y1="414.7" x2="352.90000000000003" y2="414.7" stroke="#959595" stroke-width="0.8"/>
<rect x="336.6" y="357.3" width="9.6" height="4.4" fill="#fff"/>
<text x="336.90" y="361.50" font-size="5.6" text-anchor="start" font-weight="bold" stroke="#000" stroke-width="0.2" fill="#000" textLength="9.41" lengthAdjust="spacingAndGlyphs" stroke-opacity="0.35">0.85</text>
<text x="344.80" y="417.00" font-size="5.6" text-anchor="middle" font-weight="bold" stroke="#000" stroke-width="0.2" fill="#000">1</text>
<text transform="translate(362.2,425.3) scale(1,1.28)" font-size="6.2" font-weight="bold" stroke="#000" stroke-width="0.05">d/d<tspan font-size="4.2" dy="0.9">0</tspan></text>
<path d="M362.3,360.3 L367.5,360.8 L370.5,363.0 L372.0,368.0 L372.5,376.0 L372.8,386.0 L372.5,396.0 L372.0,406.0" fill="none" stroke="#c6c6c6" stroke-width="0.8" stroke-linejoin="round" stroke-linecap="round"/>
<path d="M367.5,361.0 L369.0,364.0 L369.5,372.0 L370.0,380.0 L370.0,390.0 L370.5,400.0 L371.0,408.0" fill="none" stroke="#b2b2b2" stroke-width="0.8" stroke-linejoin="round" stroke-linecap="round"/>
<path d="M374.5,362.0 L372.5,367.0 L373.4,371.4 L374.0,376.0 L373.5,384.0 L373.0,393.0 L372.0,402.0 L371.0,410.0" fill="none" stroke="#9c9c9c" stroke-width="0.8" stroke-linejoin="round" stroke-linecap="round"/>
<path d="M375.1,362.6 L372.0,366.0 L371.5,372.0 L372.5,380.0 L372.0,390.0 L371.0,400.0 L369.0,405.0 L362.5,411.5" fill="none" stroke="#868686" stroke-width="0.8" stroke-linejoin="round" stroke-linecap="round"/>
<path d="M372.0,361.0 L369.5,365.0 L369.0,372.0 L369.3,378.0 L369.5,380.0 L369.0,385.0 L369.0,395.2 L366.6,404.5 L368.4,406.3 L376.5,411.0" fill="none" stroke="#707070" stroke-width="0.8" stroke-linejoin="round" stroke-linecap="round"/>
<path d="M371.0,361.0 L369.9,363.2 L371.6,370.2 L371.0,374.9 L372.0,385.0 L373.6,391.7 L375.0,398.0 L374.0,404.0 L376.5,411.0" fill="none" stroke="#555555" stroke-width="0.8" stroke-linejoin="round" stroke-linecap="round"/>
<path d="M368.1,363.2 L368.7,369.0 L369.3,376.0 L370.4,385.0 L372.5,390.0 L374.8,398.7 L373.6,403.4 L372.5,409.2" fill="none" stroke="#363636" stroke-width="0.8" stroke-linejoin="round" stroke-linecap="round"/>
<path d="M371.6,360.3 L373.4,362.0 L370.4,364.3 L369.3,369.0 L370.4,374.9 L369.9,378.4 L370.5,385.0 L371.3,389.3 L371.9,397.5 L372.5,405.7 L371.9,412.7" fill="none" stroke="#e3262b" stroke-width="0.95" stroke-linejoin="round" stroke-linecap="round"/>
<text x="213.5" y="439.30" font-size="8.4" text-anchor="middle" font-weight="bold" stroke="#000" stroke-width="0.08">(d)</text>
<rect x="3.5" y="444.5" width="117" height="89" fill="none" stroke="#e4e4e4" stroke-width="1"/>
<text x="62.10" y="454.00" font-size="6.6" text-anchor="middle" font-weight="bold" stroke="#000" stroke-width="0.2" textLength="7.4" lengthAdjust="spacingAndGlyphs" stroke-opacity="0.3">5-2</text>
<text x="119.00" y="452.00" font-size="6.7" text-anchor="end" font-weight="bold" stroke="#000" stroke-width="0.2" textLength="17.9" lengthAdjust="spacingAndGlyphs" stroke-opacity="0.5">u [m/s]</text>
<line x1="20.0" y1="465.9" x2="112.2" y2="465.9" stroke="#959595" stroke-width="0.9"/>
<path d="M114.7,465.9 L111.3,464.7 L111.3,467.09999999999997 Z" fill="#111"/>
<line x1="21.40" y1="464.29999999999995" x2="21.40" y2="467.5" stroke="#959595" stroke-width="0.8"/>
<text x="21.40" y="459.60" font-size="5.6" text-anchor="middle" font-weight="bold" stroke="#000" stroke-width="0.2" fill="#000" textLength="2.52" lengthAdjust="spacingAndGlyphs" stroke-opacity="0.35">0</text>
<line x1="36.85" y1="464.29999999999995" x2="36.85" y2="467.5" stroke="#959595" stroke-width="0.8"/>
<text x="36.85" y="459.60" font-size="5.6" text-anchor="middle" font-weight="bold" stroke="#000" stroke-width="0.2" fill="#000" textLength="8.82" lengthAdjust="spacingAndGlyphs" stroke-opacity="0.35">0.05</text>
<line x1="52.30" y1="464.29999999999995" x2="52.30" y2="467.5" stroke="#959595" stroke-width="0.8"/>
<text x="52.30" y="459.60" font-size="5.6" text-anchor="middle" font-weight="bold" stroke="#000" stroke-width="0.2" fill="#000" textLength="6.30" lengthAdjust="spacingAndGlyphs" stroke-opacity="0.35">0.1</text>
<line x1="67.75" y1="464.29999999999995" x2="67.75" y2="467.5" stroke="#959595" stroke-width="0.8"/>
<text x="67.75" y="459.60" font-size="5.6" text-anchor="middle" font-weight="bold" stroke="#000" stroke-width="0.2" fill="#000" textLength="8.82" lengthAdjust="spacingAndGlyphs" stroke-opacity="0.35">0.15</text>
<line x1="83.20" y1="464.29999999999995" x2="83.20" y2="467.5" stroke="#959595" stroke-width="0.8"/>
<text x="83.20" y="459.60" font-size="5.6" text-anchor="middle" font-weight="bold" stroke="#000" stroke-width="0.2" fill="#000" textLength="6.30" lengthAdjust="spacingAndGlyphs" stroke-opacity="0.35">0.2</text>
<line x1="98.65" y1="464.29999999999995" x2="98.65" y2="467.5" stroke="#959595" stroke-width="0.8"/>
<text x="98.65" y="459.60" font-size="5.6" text-anchor="middle" font-weight="bold" stroke="#000" stroke-width="0.2" fill="#000" textLength="8.82" lengthAdjust="spacingAndGlyphs" stroke-opacity="0.35">0.25</text>
<line x1="114.10" y1="464.29999999999995" x2="114.10" y2="467.5" stroke="#959595" stroke-width="0.8"/>
<text x="114.10" y="459.60" font-size="5.6" text-anchor="middle" font-weight="bold" stroke="#000" stroke-width="0.2" fill="#000" textLength="6.30" lengthAdjust="spacingAndGlyphs" stroke-opacity="0.35">0.3</text>
<line x1="21.4" y1="464.9" x2="21.4" y2="519.2" stroke="#959595" stroke-width="0.9"/>
<path d="M21.4,521.7 L20.25,518.4000000000001 L22.549999999999997,518.4000000000001 Z" fill="#111"/>
<line x1="19.599999999999998" y1="520.7" x2="23.2" y2="520.7" stroke="#959595" stroke-width="0.8"/>
<text x="16.60" y="467.90" font-size="5.6" text-anchor="end" font-weight="bold" stroke="#000" stroke-width="0.2" fill="#000" textLength="9.41" lengthAdjust="spacingAndGlyphs" stroke-opacity="0.35">0.85</text>
<text x="14.80" y="523.00" font-size="5.6" text-anchor="middle" font-weight="bold" stroke="#000" stroke-width="0.2" fill="#000">1</text>
<text transform="translate(10.6,531.3) scale(1,1.28)" font-size="6.2" font-weight="bold" stroke="#000" stroke-width="0.05">d/d<tspan font-size="4.2" dy="0.9">0</tspan></text>
<path d="M89.0,467.0 L94.0,470.0 L96.5,475.0 L97.5,482.0 L98.0,492.0 L97.5,502.0 L96.0,509.0 L94.0,514.0" fill="none" stroke="#c6c6c6" stroke-width="0.8" stroke-linejoin="round" stroke-linecap="round"/>
<path d="M93.0,467.0 L96.0,469.0 L97.5,473.0 L98.2,480.0 L98.8,490.0 L98.5,500.0 L97.0,508.0 L95.0,513.0" fill="none" stroke="#b2b2b2" stroke-width="0.8" stroke-linejoin="round" stroke-linecap="round"/>
<path d="M87.5,474.6 L92.7,474.0 L95.0,477.5 L93.9,479.9 L97.4,483.4 L98.0,490.0 L97.8,500.0 L96.5,508.0 L95.4,513.0 L96.3,514.6 L92.2,517.1 L91.4,518.7 L93.4,520.3" fill="none" stroke="#9c9c9c" stroke-width="0.8" stroke-linejoin="round" stroke-linecap="round"/>
<path d="M97.0,466.5 L96.0,470.0 L97.0,474.0 L97.8,480.0 L98.4,490.0 L98.0,500.0 L96.5,507.0 L94.9,513.5 L87.0,516.0 L79.4,518.2" fill="none" stroke="#868686" stroke-width="0.8" stroke-linejoin="round" stroke-linecap="round"/>
<path d="M70.5,466.4 L75.2,468.2 L89.2,469.3 L91.5,469.9 L92.7,471.7 L95.5,474.0 L97.5,478.0 L98.3,486.0 L98.5,495.0 L97.5,504.0 L95.0,510.0 L94.0,512.0" fill="none" stroke="#707070" stroke-width="0.8" stroke-linejoin="round" stroke-linecap="round"/>
<path d="M99.7,467.0 L98.6,471.7 L97.4,475.2 L97.6,485.0 L98.0,495.0 L97.0,503.0 L94.2,510.5 L86.0,512.8 L72.0,515.5 L57.0,518.3" fill="none" stroke="#555555" stroke-width="0.8" stroke-linejoin="round" stroke-linecap="round"/>
<path d="M91.0,471.1 L95.0,472.9 L98.0,476.4 L98.6,483.4 L99.0,490.0 L98.3,501.5 L94.6,509.7 L93.8,511.4 L84.8,513.0 L75.0,515.0 L55.2,519.0" fill="none" stroke="#363636" stroke-width="0.8" stroke-linejoin="round" stroke-linecap="round"/>
<path d="M100.9,466.4 L93.9,468.8 L95.0,469.9 L96.2,471.7 L97.4,477.5 L98.6,484.5 L99.3,490.0 L99.8,497.0 L99.5,503.2 L98.7,509.7 L98.3,515.4 L96.3,518.7 L94.2,521.2" fill="none" stroke="#e3262b" stroke-width="0.95" stroke-linejoin="round" stroke-linecap="round"/>
<rect x="155.5" y="444.5" width="117" height="89" fill="none" stroke="#e4e4e4" stroke-width="1"/>
<text x="214.00" y="454.00" font-size="6.6" text-anchor="middle" font-weight="bold" stroke="#000" stroke-width="0.2" textLength="7.4" lengthAdjust="spacingAndGlyphs" stroke-opacity="0.3">5-2</text>
<text x="270.80" y="452.00" font-size="6.7" text-anchor="end" font-weight="bold" stroke="#000" stroke-width="0.2" textLength="17.7" lengthAdjust="spacingAndGlyphs" stroke-opacity="0.5">v [m/s]</text>
<line x1="168.9" y1="465.9" x2="263.8" y2="465.9" stroke="#959595" stroke-width="0.9"/>
<path d="M266.3,465.9 L262.90000000000003,464.7 L262.90000000000003,467.09999999999997 Z" fill="#111"/>
<line x1="168.90" y1="464.29999999999995" x2="168.90" y2="467.5" stroke="#959595" stroke-width="0.8"/>
<text x="168.90" y="459.60" font-size="5.6" text-anchor="middle" font-weight="bold" stroke="#000" stroke-width="0.2" fill="#000" textLength="10.50" lengthAdjust="spacingAndGlyphs" stroke-opacity="0.35">-0.04</text>
<line x1="185.05" y1="464.29999999999995" x2="185.05" y2="467.5" stroke="#959595" stroke-width="0.8"/>
<text x="185.05" y="459.60" font-size="5.6" text-anchor="middle" font-weight="bold" stroke="#000" stroke-width="0.2" fill="#000" textLength="10.50" lengthAdjust="spacingAndGlyphs" stroke-opacity="0.35">-0.03</text>
<line x1="201.20" y1="464.29999999999995" x2="201.20" y2="467.5" stroke="#959595" stroke-width="0.8"/>
<text x="201.20" y="459.60" font-size="5.6" text-anchor="middle" font-weight="bold" stroke="#000" stroke-width="0.2" fill="#000" textLength="10.50" lengthAdjust="spacingAndGlyphs" stroke-opacity="0.35">-0.02</text>
<line x1="217.35" y1="464.29999999999995" x2="217.35" y2="467.5" stroke="#959595" stroke-width="0.8"/>
<text x="217.35" y="459.60" font-size="5.6" text-anchor="middle" font-weight="bold" stroke="#000" stroke-width="0.2" fill="#000" textLength="10.50" lengthAdjust="spacingAndGlyphs" stroke-opacity="0.35">-0.01</text>
<line x1="233.50" y1="464.29999999999995" x2="233.50" y2="467.5" stroke="#959595" stroke-width="0.8"/>
<text x="233.50" y="459.60" font-size="5.6" text-anchor="middle" font-weight="bold" stroke="#000" stroke-width="0.2" fill="#000" textLength="2.52" lengthAdjust="spacingAndGlyphs" stroke-opacity="0.35">0</text>
<line x1="249.65" y1="464.29999999999995" x2="249.65" y2="467.5" stroke="#959595" stroke-width="0.8"/>
<text x="249.65" y="459.60" font-size="5.6" text-anchor="middle" font-weight="bold" stroke="#000" stroke-width="0.2" fill="#000" textLength="8.82" lengthAdjust="spacingAndGlyphs" stroke-opacity="0.35">0.01</text>
<line x1="265.80" y1="464.29999999999995" x2="265.80" y2="467.5" stroke="#959595" stroke-width="0.8"/>
<text x="265.80" y="459.60" font-size="5.6" text-anchor="middle" font-weight="bold" stroke="#000" stroke-width="0.2" fill="#000" textLength="8.82" lengthAdjust="spacingAndGlyphs" stroke-opacity="0.35">0.02</text>
<line x1="233.5" y1="464.9" x2="233.5" y2="519.2" stroke="#959595" stroke-width="0.9"/>
<path d="M233.5,521.7 L232.35,518.4000000000001 L234.65,518.4000000000001 Z" fill="#111"/>
<line x1="231.7" y1="520.7" x2="235.3" y2="520.7" stroke="#959595" stroke-width="0.8"/>
<rect x="218.29999999999998" y="463.7" width="9.6" height="4.4" fill="#fff"/>
<text x="218.60" y="467.90" font-size="5.6" text-anchor="start" font-weight="bold" stroke="#000" stroke-width="0.2" fill="#000" textLength="9.41" lengthAdjust="spacingAndGlyphs" stroke-opacity="0.35">0.85</text>
<text x="227.00" y="523.00" font-size="5.6" text-anchor="middle" font-weight="bold" stroke="#000" stroke-width="0.2" fill="#000">1</text>
<text transform="translate(213.8,531.3) scale(1,1.28)" font-size="6.2" font-weight="bold" stroke="#000" stroke-width="0.05">d/d<tspan font-size="4.2" dy="0.9">0</tspan></text>
<path d="M209.0,470.0 L209.0,478.0 L207.5,486.0 L205.5,494.0 L204.0,502.0 L203.5,510.0 L205.0,516.0 L207.0,520.0" fill="none" stroke="#c6c6c6" stroke-width="0.8" stroke-linejoin="round" stroke-linecap="round"/>
<path d="M212.8,469.3 L228.6,469.3 L228.6,471.7 L225.0,472.9 L222.0,476.0 L220.0,482.0 L217.0,488.0 L212.0,495.0 L207.0,502.0 L206.0,510.0 L207.5,516.3 L210.1,519.5" fill="none" stroke="#b2b2b2" stroke-width="0.8" stroke-linejoin="round" stroke-linecap="round"/>
<path d="M213.4,471.7 L213.0,478.0 L211.5,485.0 L209.4,490.0 L206.9,498.3 L205.0,505.0 L205.0,511.0 L207.0,516.0 L209.0,520.0" fill="none" stroke="#9c9c9c" stroke-width="0.8" stroke-linejoin="round" stroke-linecap="round"/>
<path d="M225.0,467.5 L224.0,472.0 L223.0,476.0 L221.5,482.0 L219.0,488.0 L215.0,494.0 L210.0,500.0 L206.5,506.0 L206.0,512.0 L209.0,517.0" fill="none" stroke="#868686" stroke-width="0.8" stroke-linejoin="round" stroke-linecap="round"/>
<path d="M211.0,469.9 L210.4,479.9 L208.7,486.9 L206.4,492.0 L205.6,495.7 L203.6,504.7 L203.0,511.1 L198.5,515.0 L201.7,518.8 L203.0,520.8" fill="none" stroke="#707070" stroke-width="0.8" stroke-linejoin="round" stroke-linecap="round"/>
<path d="M223.9,472.9 L223.3,479.9 L221.0,485.7 L218.0,492.0 L212.6,497.0 L208.1,500.9 L204.3,507.3 L212.6,511.8 L217.1,515.0 L222.3,518.8" fill="none" stroke="#555555" stroke-width="0.8" stroke-linejoin="round" stroke-linecap="round"/>
<path d="M226.2,467.0 L222.7,469.9 L221.0,472.9 L221.0,477.0 L220.4,481.0 L218.0,486.9 L214.6,494.4 L209.4,500.9 L205.6,506.0 L204.3,511.1 L208.1,515.0 L210.7,518.8" fill="none" stroke="#363636" stroke-width="0.8" stroke-linejoin="round" stroke-linecap="round"/>
<path d="M227.4,466.4 L221.5,468.8 L218.0,470.5 L216.3,474.0 L215.7,478.7 L214.5,483.4 L213.3,488.0 L212.0,495.7 L210.7,503.4 L211.3,511.1 L213.3,516.9 L215.8,520.8" fill="none" stroke="#e3262b" stroke-width="0.95" stroke-linejoin="round" stroke-linecap="round"/>
<rect x="306.5" y="444.5" width="118" height="89" fill="none" stroke="#e4e4e4" stroke-width="1"/>
<text x="365.50" y="454.00" font-size="6.6" text-anchor="middle" font-weight="bold" stroke="#000" stroke-width="0.2" textLength="7.4" lengthAdjust="spacingAndGlyphs" stroke-opacity="0.3">5-2</text>
<text x="423.30" y="452.00" font-size="6.7" text-anchor="end" font-weight="bold" stroke="#000" stroke-width="0.2" textLength="19.6" lengthAdjust="spacingAndGlyphs" stroke-opacity="0.5">w [m/s]</text>
<line x1="318.3" y1="465.9" x2="414.8" y2="465.9" stroke="#959595" stroke-width="0.9"/>
<path d="M417.3,465.9 L413.90000000000003,464.7 L413.90000000000003,467.09999999999997 Z" fill="#111"/>
<line x1="319.14" y1="464.29999999999995" x2="319.14" y2="467.5" stroke="#959595" stroke-width="0.8"/>
<text x="319.14" y="459.60" font-size="5.6" text-anchor="middle" font-weight="bold" stroke="#000" stroke-width="0.2" fill="#000" textLength="10.50" lengthAdjust="spacingAndGlyphs" stroke-opacity="0.35">-0.02</text>
<line x1="335.57" y1="464.29999999999995" x2="335.57" y2="467.5" stroke="#959595" stroke-width="0.8"/>
<text x="335.57" y="459.60" font-size="5.6" text-anchor="middle" font-weight="bold" stroke="#000" stroke-width="0.2" fill="#000" textLength="10.50" lengthAdjust="spacingAndGlyphs" stroke-opacity="0.35">-0.01</text>
<line x1="352.00" y1="464.29999999999995" x2="352.00" y2="467.5" stroke="#959595" stroke-width="0.8"/>
<text x="352.00" y="459.60" font-size="5.6" text-anchor="middle" font-weight="bold" stroke="#000" stroke-width="0.2" fill="#000" textLength="2.52" lengthAdjust="spacingAndGlyphs" stroke-opacity="0.35">0</text>
<line x1="368.43" y1="464.29999999999995" x2="368.43" y2="467.5" stroke="#959595" stroke-width="0.8"/>
<text x="368.43" y="459.60" font-size="5.6" text-anchor="middle" font-weight="bold" stroke="#000" stroke-width="0.2" fill="#000" textLength="8.82" lengthAdjust="spacingAndGlyphs" stroke-opacity="0.35">0.01</text>
<line x1="384.86" y1="464.29999999999995" x2="384.86" y2="467.5" stroke="#959595" stroke-width="0.8"/>
<text x="384.86" y="459.60" font-size="5.6" text-anchor="middle" font-weight="bold" stroke="#000" stroke-width="0.2" fill="#000" textLength="8.82" lengthAdjust="spacingAndGlyphs" stroke-opacity="0.35">0.02</text>
<line x1="401.29" y1="464.29999999999995" x2="401.29" y2="467.5" stroke="#959595" stroke-width="0.8"/>
<text x="401.29" y="459.60" font-size="5.6" text-anchor="middle" font-weight="bold" stroke="#000" stroke-width="0.2" fill="#000" textLength="8.82" lengthAdjust="spacingAndGlyphs" stroke-opacity="0.35">0.03</text>
<line x1="417.72" y1="464.29999999999995" x2="417.72" y2="467.5" stroke="#959595" stroke-width="0.8"/>
<text x="417.72" y="459.60" font-size="5.6" text-anchor="middle" font-weight="bold" stroke="#000" stroke-width="0.2" fill="#000" textLength="8.82" lengthAdjust="spacingAndGlyphs" stroke-opacity="0.35">0.04</text>
<line x1="352.0" y1="464.9" x2="352.0" y2="519.2" stroke="#959595" stroke-width="0.9"/>
<path d="M352.0,521.7 L350.85,518.4000000000001 L353.15,518.4000000000001 Z" fill="#111"/>
<line x1="350.2" y1="520.7" x2="353.8" y2="520.7" stroke="#959595" stroke-width="0.8"/>
<rect x="337.5" y="463.7" width="9.6" height="4.4" fill="#fff"/>
<text x="337.80" y="467.90" font-size="5.6" text-anchor="start" font-weight="bold" stroke="#000" stroke-width="0.2" fill="#000" textLength="9.41" lengthAdjust="spacingAndGlyphs" stroke-opacity="0.35">0.85</text>
<text x="344.80" y="523.00" font-size="5.6" text-anchor="middle" font-weight="bold" stroke="#000" stroke-width="0.2" fill="#000">1</text>
<text transform="translate(362.2,531.3) scale(1,1.28)" font-size="6.2" font-weight="bold" stroke="#000" stroke-width="0.05">d/d<tspan font-size="4.2" dy="0.9">0</tspan></text>
<path d="M369.5,468.2 L375.4,471.1 L377.7,472.3 L373.0,475.0 L370.5,480.0 L370.0,490.0 L370.5,500.0 L371.0,510.0 L371.5,518.0" fill="none" stroke="#c6c6c6" stroke-width="0.8" stroke-linejoin="round" stroke-linecap="round"/>
<path d="M365.0,468.0 L366.5,472.0 L367.0,480.0 L367.0,490.0 L367.5,500.0 L369.0,508.0 L370.0,515.0" fill="none" stroke="#b2b2b2" stroke-width="0.8" stroke-linejoin="round" stroke-linecap="round"/>
<path d="M353.2,466.8 L368.4,467.5 L368.4,468.8 L367.2,472.9 L369.0,478.7 L369.5,492.0 L369.0,499.7 L370.7,509.0 L370.1,518.4" fill="none" stroke="#9c9c9c" stroke-width="0.8" stroke-linejoin="round" stroke-linecap="round"/>
<path d="M358.0,470.0 L362.0,472.5 L365.0,476.0 L366.0,482.0 L366.0,490.0 L366.5,498.0 L368.0,505.0 L370.0,511.0 L372.0,518.0" fill="none" stroke="#868686" stroke-width="0.8" stroke-linejoin="round" stroke-linecap="round"/>
<path d="M353.2,474.0 L359.0,473.4 L363.7,476.4 L360.2,478.7 L363.7,478.7 L366.0,482.0 L366.6,488.0 L367.8,499.7 L369.5,507.9 L371.3,511.4 L370.7,514.3 L366.0,518.4" fill="none" stroke="#707070" stroke-width="0.8" stroke-linejoin="round" stroke-linecap="round"/>
<path d="M361.9,468.8 L367.8,472.9 L368.5,478.0 L368.5,485.0 L368.0,492.0 L368.5,500.0 L370.0,507.0 L371.5,511.0 L366.0,518.4" fill="none" stroke="#555555" stroke-width="0.8" stroke-linejoin="round" stroke-linecap="round"/>
<path d="M356.7,468.8 L363.7,474.0 L366.6,477.5 L367.2,483.4 L366.6,492.0 L367.5,500.0 L369.5,507.0 L371.9,511.4 L360.0,514.5 L345.0,518.4" fill="none" stroke="#363636" stroke-width="0.8" stroke-linejoin="round" stroke-linecap="round"/>
<path d="M373.0,467.0 L381.2,468.2 L384.7,468.8 L378.9,469.9 L374.2,471.7 L371.9,474.0 L371.3,478.7 L372.5,483.4 L371.9,492.0 L371.3,497.3 L371.9,505.5 L372.5,511.4 L373.0,516.0 L373.6,520.1" fill="none" stroke="#e3262b" stroke-width="0.95" stroke-linejoin="round" stroke-linecap="round"/>
<text x="213.5" y="545.30" font-size="8.4" text-anchor="middle" font-weight="bold" stroke="#000" stroke-width="0.08">(e)</text>
</svg></body></html>
